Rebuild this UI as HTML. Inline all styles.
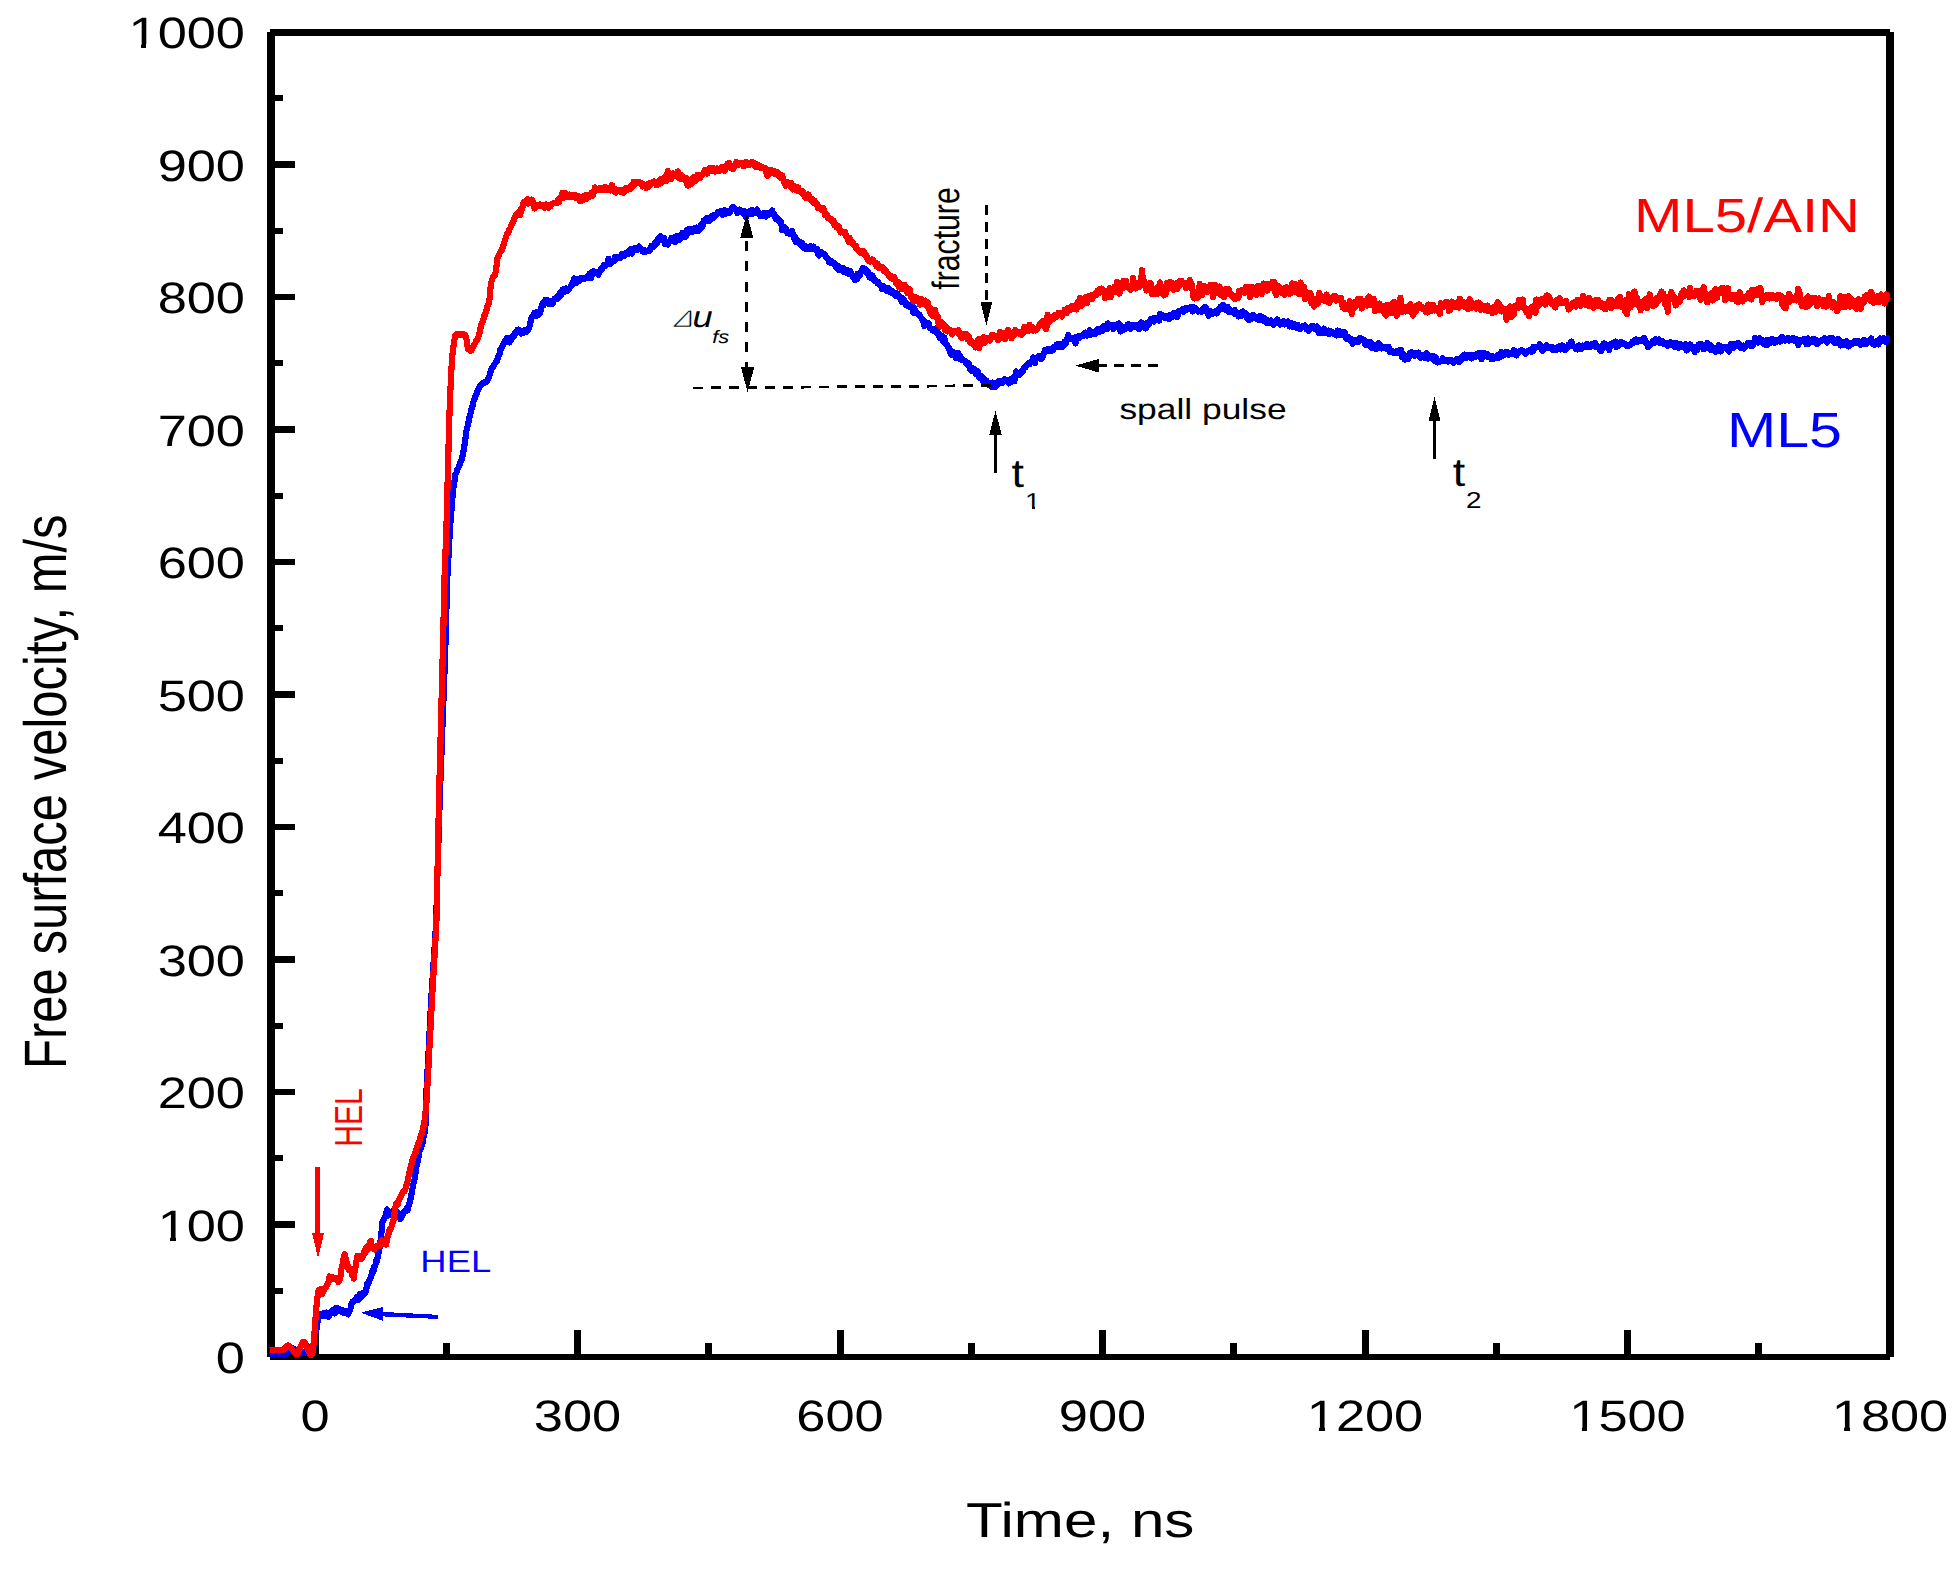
<!DOCTYPE html>
<html lang="en">
<head>
<meta charset="utf-8">
<title>Free surface velocity profiles: ML5 and ML5/AlN</title>
<style>
html,body{margin:0;padding:0;background:#fff;}
body{width:1958px;height:1573px;overflow:hidden;font-family:"Liberation Sans", Arial, Helvetica, sans-serif;}
svg{display:block;}
</style>
</head>
<body>
<svg width="1958" height="1573" viewBox="0 0 1958 1573" font-family='"Liberation Sans", Arial, Helvetica, sans-serif' shape-rendering="crispEdges" text-rendering="geometricPrecision">
<rect x="267.00" y="32.00" width="8.00" height="1324.60" fill="#000"/>
<rect x="1885.80" y="32.00" width="8.20" height="1324.60" fill="#000"/>
<rect x="270.00" y="29.00" width="1620.00" height="6.70" fill="#000"/>
<rect x="270.00" y="1354.20" width="1620.00" height="5.60" fill="#000"/>
<text transform="translate(245.00,1373.00) scale(1.1900,1.0000)" font-size="44" text-anchor="end" fill="#000">0</text>
<rect x="274.00" y="1287.55" width="9.00" height="6.40" fill="#000"/>
<rect x="274.00" y="1221.30" width="21.00" height="6.40" fill="#000"/>
<text transform="translate(245.00,1240.50) scale(1.1900,1.0000)" font-size="44" text-anchor="end" fill="#000">100</text>
<rect x="159.73" y="1236.63" width="10.63" height="4.47" fill="#fff"/>
<rect x="175.59" y="1236.63" width="9.79" height="4.47" fill="#fff"/>
<rect x="274.00" y="1155.05" width="9.00" height="6.40" fill="#000"/>
<rect x="274.00" y="1088.80" width="21.00" height="6.40" fill="#000"/>
<text transform="translate(245.00,1108.00) scale(1.1900,1.0000)" font-size="44" text-anchor="end" fill="#000">200</text>
<rect x="274.00" y="1022.55" width="9.00" height="6.40" fill="#000"/>
<rect x="274.00" y="956.30" width="21.00" height="6.40" fill="#000"/>
<text transform="translate(245.00,975.50) scale(1.1900,1.0000)" font-size="44" text-anchor="end" fill="#000">300</text>
<rect x="274.00" y="890.05" width="9.00" height="6.40" fill="#000"/>
<rect x="274.00" y="823.80" width="21.00" height="6.40" fill="#000"/>
<text transform="translate(245.00,843.00) scale(1.1900,1.0000)" font-size="44" text-anchor="end" fill="#000">400</text>
<rect x="274.00" y="757.55" width="9.00" height="6.40" fill="#000"/>
<rect x="274.00" y="691.30" width="21.00" height="6.40" fill="#000"/>
<text transform="translate(245.00,710.50) scale(1.1900,1.0000)" font-size="44" text-anchor="end" fill="#000">500</text>
<rect x="274.00" y="625.05" width="9.00" height="6.40" fill="#000"/>
<rect x="274.00" y="558.80" width="21.00" height="6.40" fill="#000"/>
<text transform="translate(245.00,578.00) scale(1.1900,1.0000)" font-size="44" text-anchor="end" fill="#000">600</text>
<rect x="274.00" y="492.55" width="9.00" height="6.40" fill="#000"/>
<rect x="274.00" y="426.30" width="21.00" height="6.40" fill="#000"/>
<text transform="translate(245.00,445.50) scale(1.1900,1.0000)" font-size="44" text-anchor="end" fill="#000">700</text>
<rect x="274.00" y="360.05" width="9.00" height="6.40" fill="#000"/>
<rect x="274.00" y="293.80" width="21.00" height="6.40" fill="#000"/>
<text transform="translate(245.00,313.00) scale(1.1900,1.0000)" font-size="44" text-anchor="end" fill="#000">800</text>
<rect x="274.00" y="227.55" width="9.00" height="6.40" fill="#000"/>
<rect x="274.00" y="161.30" width="21.00" height="6.40" fill="#000"/>
<text transform="translate(245.00,180.50) scale(1.1900,1.0000)" font-size="44" text-anchor="end" fill="#000">900</text>
<rect x="274.00" y="95.05" width="9.00" height="6.40" fill="#000"/>
<text transform="translate(245.00,48.00) scale(1.1900,1.0000)" font-size="44" text-anchor="end" fill="#000">1000</text>
<rect x="130.60" y="44.13" width="10.63" height="4.47" fill="#fff"/>
<rect x="146.47" y="44.13" width="9.79" height="4.47" fill="#fff"/>
<rect x="311.50" y="1330.00" width="7.00" height="25.00" fill="#000"/>
<text transform="translate(315.00,1430.90) scale(1.1900,1.0000)" font-size="44" text-anchor="middle" fill="#000">0</text>
<rect x="442.85" y="1343.00" width="6.80" height="12.00" fill="#000"/>
<rect x="574.00" y="1330.00" width="7.00" height="25.00" fill="#000"/>
<text transform="translate(577.50,1430.90) scale(1.1900,1.0000)" font-size="44" text-anchor="middle" fill="#000">300</text>
<rect x="705.35" y="1343.00" width="6.80" height="12.00" fill="#000"/>
<rect x="836.50" y="1330.00" width="7.00" height="25.00" fill="#000"/>
<text transform="translate(840.00,1430.90) scale(1.1900,1.0000)" font-size="44" text-anchor="middle" fill="#000">600</text>
<rect x="967.85" y="1343.00" width="6.80" height="12.00" fill="#000"/>
<rect x="1099.00" y="1330.00" width="7.00" height="25.00" fill="#000"/>
<text transform="translate(1102.50,1430.90) scale(1.1900,1.0000)" font-size="44" text-anchor="middle" fill="#000">900</text>
<rect x="1230.35" y="1343.00" width="6.80" height="12.00" fill="#000"/>
<rect x="1361.50" y="1330.00" width="7.00" height="25.00" fill="#000"/>
<text transform="translate(1365.00,1430.90) scale(1.1900,1.0000)" font-size="44" text-anchor="middle" fill="#000">1200</text>
<rect x="1308.85" y="1427.03" width="10.63" height="4.47" fill="#fff"/>
<rect x="1324.71" y="1427.03" width="9.79" height="4.47" fill="#fff"/>
<rect x="1492.85" y="1343.00" width="6.80" height="12.00" fill="#000"/>
<rect x="1624.00" y="1330.00" width="7.00" height="25.00" fill="#000"/>
<text transform="translate(1627.50,1430.90) scale(1.1900,1.0000)" font-size="44" text-anchor="middle" fill="#000">1500</text>
<rect x="1571.35" y="1427.03" width="10.63" height="4.47" fill="#fff"/>
<rect x="1587.21" y="1427.03" width="9.79" height="4.47" fill="#fff"/>
<rect x="1755.35" y="1343.00" width="6.80" height="12.00" fill="#000"/>
<text transform="translate(1890.00,1430.90) scale(1.1900,1.0000)" font-size="44" text-anchor="middle" fill="#000">1800</text>
<rect x="1833.85" y="1427.03" width="10.63" height="4.47" fill="#fff"/>
<rect x="1849.71" y="1427.03" width="9.79" height="4.47" fill="#fff"/>
<g fill="none" stroke-linejoin="round" stroke-linecap="butt">
<path d="M270.0,1354.6 L270.9,1354.1 L271.8,1354.4 L272.7,1354.0 L273.6,1354.0 L274.5,1354.1 L275.4,1353.9 L276.3,1353.8 L277.2,1353.6 L278.1,1353.6 L279.0,1353.7 L279.9,1353.8 L280.8,1353.9 L281.7,1353.9 L282.6,1353.8 L283.5,1353.8 L284.4,1354.2 L285.3,1354.0 L286.2,1353.9 L287.1,1353.0 L288.0,1351.9 L288.9,1351.3 L289.8,1350.1 L290.7,1349.5 L291.6,1349.0 L292.5,1348.1 L293.4,1348.5 L294.3,1349.7 L295.2,1350.4 L296.1,1351.3 L297.0,1351.9 L297.9,1352.9 L298.8,1353.5 L299.7,1353.6 L300.6,1353.4 L301.5,1353.4 L302.4,1353.3 L303.3,1353.1 L304.2,1353.0 L305.1,1351.7 L306.0,1350.6 L306.9,1349.6 L307.8,1348.1 L308.7,1346.7 L309.6,1348.0 L310.5,1349.9 L311.4,1351.4 L312.3,1353.0 L313.2,1348.4 L314.1,1341.7 L315.0,1335.3 L315.9,1329.4 L316.8,1328.5 L317.7,1320.7 L318.6,1316.6 L319.5,1315.9 L320.4,1314.5 L321.3,1316.1 L322.2,1315.0 L323.1,1315.8 L324.0,1312.9 L324.9,1314.4 L325.8,1315.3 L326.7,1312.6 L327.6,1313.0 L328.5,1316.8 L329.4,1312.9 L330.3,1312.1 L331.2,1312.6 L332.1,1310.7 L333.0,1309.6 L333.9,1310.0 L334.8,1313.4 L335.7,1310.6 L336.6,1307.8 L337.5,1310.4 L338.4,1308.7 L339.3,1311.2 L340.2,1309.5 L341.1,1311.6 L342.0,1311.1 L342.9,1310.4 L343.8,1313.2 L344.7,1311.9 L345.6,1310.9 L346.5,1313.5 L347.4,1313.5 L348.3,1314.3 L349.2,1310.8 L350.1,1310.6 L351.0,1305.9 L351.9,1303.0 L352.8,1301.4 L353.7,1301.2 L354.6,1300.0 L355.5,1300.3 L356.4,1298.9 L357.3,1296.7 L358.2,1299.9 L359.1,1296.6 L360.0,1293.7 L360.9,1297.8 L361.8,1293.4 L362.7,1294.4 L363.6,1294.9 L364.5,1293.6 L365.4,1293.0 L366.3,1289.1 L367.2,1283.7 L368.1,1284.6 L369.0,1281.7 L369.9,1278.8 L370.8,1277.6 L371.7,1274.2 L372.6,1270.3 L373.5,1271.3 L374.4,1266.4 L375.3,1265.8 L376.2,1260.3 L377.1,1260.7 L378.0,1255.1 L378.9,1251.3 L379.8,1246.2 L380.7,1239.1 L381.6,1230.8 L382.5,1222.3 L383.4,1220.3 L384.3,1218.6 L385.2,1216.9 L386.1,1214.3 L387.0,1209.3 L387.9,1214.1 L388.8,1215.3 L389.7,1213.8 L390.6,1212.2 L391.5,1211.6 L392.4,1212.2 L393.3,1216.6 L394.2,1214.4 L395.1,1215.0 L396.0,1211.3 L396.9,1212.4 L397.8,1212.5 L398.7,1214.0 L399.6,1217.6 L400.5,1219.2 L401.4,1216.9 L402.3,1215.7 L403.2,1213.0 L404.1,1212.1 L405.0,1210.7 L405.9,1211.2 L406.8,1208.2 L407.7,1210.2 L408.6,1205.8 L409.5,1203.2 L410.4,1199.7 L411.3,1195.3 L412.2,1190.1 L413.1,1185.9 L414.0,1181.1 L414.9,1178.4 L415.8,1170.9 L416.7,1165.5 L417.6,1161.6 L418.5,1157.2 L419.4,1151.8 L420.3,1149.6 L421.2,1147.3 L422.1,1145.2 L423.0,1140.7 L423.9,1134.8 L424.8,1132.0 L425.7,1122.9 L426.6,1088.0 L427.5,1071.3 L428.4,1055.6 L429.3,1037.3 L430.2,1020.0 L431.1,1001.6 L432.0,986.9 L432.9,973.8 L433.8,959.5 L434.7,946.0 L435.6,931.7 L436.5,908.8 L437.4,877.2 L438.3,846.7 L439.2,815.8 L440.1,789.2 L441.0,766.5 L441.9,740.7 L442.8,717.4 L443.7,692.7 L444.6,668.6 L445.5,642.1 L446.4,610.0 L447.3,578.3 L448.2,562.1 L449.1,545.2 L450.0,528.7 L450.9,517.2 L451.8,505.8 L452.7,494.2 L453.6,486.5 L454.5,480.8 L455.4,474.4 L456.3,473.2 L457.2,469.9 L458.1,468.3 L459.0,466.4 L459.9,463.7 L460.8,461.3 L461.7,459.5 L462.6,455.9 L463.5,450.9 L464.4,445.8 L465.3,439.4 L466.2,431.8 L467.1,428.4 L468.0,424.5 L468.9,420.5 L469.8,415.7 L470.7,412.9 L471.6,408.5 L472.5,406.2 L473.4,401.8 L474.3,399.8 L475.2,396.8 L476.1,395.1 L477.0,392.5 L477.9,390.4 L478.8,388.7 L479.7,386.7 L480.6,385.6 L481.5,384.6 L482.4,383.6 L483.3,382.9 L484.2,382.3 L485.1,382.5 L486.0,381.8 L486.9,381.3 L487.8,379.2 L488.7,377.4 L489.6,375.4 L490.5,371.9 L491.4,368.9 L492.3,367.9 L493.2,366.8 L494.1,364.6 L495.0,363.5 L495.9,361.9 L496.8,361.1 L497.7,358.6 L498.6,355.7 L499.5,354.0 L500.4,349.2 L501.3,348.7 L502.2,347.1 L503.1,344.3 L504.0,343.0 L504.9,340.5 L505.8,342.1 L506.7,338.3 L507.6,339.7 L508.5,338.4 L509.4,342.4 L510.3,340.2 L511.2,340.2 L512.1,336.4 L513.0,337.0 L513.9,336.2 L514.8,332.9 L515.7,333.6 L516.6,331.9 L517.5,329.7 L518.4,329.5 L519.3,330.6 L520.2,330.7 L521.1,333.6 L522.0,333.4 L522.9,333.3 L523.8,330.5 L524.7,329.9 L525.6,329.7 L526.5,331.8 L527.4,329.3 L528.3,330.0 L529.2,327.5 L530.1,324.4 L531.0,319.4 L531.9,316.7 L532.8,316.8 L533.7,316.4 L534.6,312.9 L535.5,315.2 L536.4,315.6 L537.3,311.9 L538.2,315.0 L539.1,312.8 L540.0,313.4 L540.9,308.7 L541.8,305.5 L542.7,303.1 L543.6,305.3 L544.5,301.4 L545.4,299.9 L546.3,302.9 L547.2,300.0 L548.1,300.5 L549.0,303.9 L549.9,302.0 L550.8,301.5 L551.7,302.6 L552.6,303.8 L553.5,301.7 L554.4,298.9 L555.3,299.5 L556.2,297.6 L557.1,299.1 L558.0,295.5 L558.9,297.5 L559.8,292.8 L560.7,295.5 L561.6,293.5 L562.5,289.5 L563.4,291.6 L564.3,289.0 L565.2,291.6 L566.1,288.3 L567.0,291.1 L567.9,289.8 L568.8,289.4 L569.7,287.8 L570.6,286.6 L571.5,286.0 L572.4,282.6 L573.3,282.0 L574.2,278.5 L575.1,281.1 L576.0,283.0 L576.9,280.0 L577.8,281.7 L578.7,278.9 L579.6,280.6 L580.5,278.3 L581.4,279.3 L582.3,279.1 L583.2,278.5 L584.1,278.2 L585.0,278.5 L585.9,278.2 L586.8,276.6 L587.7,276.1 L588.6,277.6 L589.5,274.0 L590.4,274.3 L591.3,277.8 L592.2,271.7 L593.1,273.1 L594.0,271.2 L594.9,272.7 L595.8,272.3 L596.7,272.3 L597.6,271.9 L598.5,274.6 L599.4,271.1 L600.3,270.4 L601.2,269.0 L602.1,268.9 L603.0,267.5 L603.9,264.9 L604.8,266.1 L605.7,265.9 L606.6,264.0 L607.5,262.6 L608.4,258.7 L609.3,264.0 L610.2,264.3 L611.1,261.0 L612.0,262.0 L612.9,261.7 L613.8,261.5 L614.7,257.4 L615.6,258.6 L616.5,259.0 L617.4,257.1 L618.3,258.2 L619.2,258.4 L620.1,257.9 L621.0,256.5 L621.9,254.1 L622.8,255.5 L623.7,255.7 L624.6,255.9 L625.5,254.7 L626.4,252.6 L627.3,253.6 L628.2,252.2 L629.1,253.6 L630.0,250.0 L630.9,248.9 L631.8,253.6 L632.7,249.1 L633.6,248.5 L634.5,249.3 L635.4,248.7 L636.3,247.9 L637.2,250.0 L638.1,247.8 L639.0,246.6 L639.9,248.5 L640.8,248.8 L641.7,249.4 L642.6,251.5 L643.5,251.4 L644.4,250.5 L645.3,251.9 L646.2,251.4 L647.1,251.3 L648.0,250.5 L648.9,251.2 L649.8,250.9 L650.7,248.0 L651.6,245.7 L652.5,245.9 L653.4,247.2 L654.3,243.9 L655.2,242.7 L656.1,241.4 L657.0,243.5 L657.9,238.6 L658.8,240.7 L659.7,239.7 L660.6,236.2 L661.5,238.0 L662.4,238.1 L663.3,240.6 L664.2,238.0 L665.1,244.1 L666.0,244.2 L666.9,243.7 L667.8,244.5 L668.7,242.0 L669.6,241.8 L670.5,240.4 L671.4,237.7 L672.3,240.4 L673.2,237.8 L674.1,241.7 L675.0,236.7 L675.9,241.8 L676.8,239.2 L677.7,235.7 L678.6,239.8 L679.5,240.0 L680.4,237.8 L681.3,236.1 L682.2,232.9 L683.1,234.4 L684.0,235.1 L684.9,236.9 L685.8,236.7 L686.7,229.8 L687.6,229.4 L688.5,231.4 L689.4,232.4 L690.3,229.1 L691.2,231.3 L692.1,230.2 L693.0,231.6 L693.9,228.8 L694.8,228.1 L695.7,229.4 L696.6,227.6 L697.5,231.1 L698.4,230.6 L699.3,228.8 L700.2,228.9 L701.1,224.7 L702.0,227.0 L702.9,225.3 L703.8,220.5 L704.7,221.1 L705.6,220.1 L706.5,218.5 L707.4,221.0 L708.3,218.3 L709.2,221.1 L710.1,219.6 L711.0,219.2 L711.9,215.8 L712.8,217.8 L713.7,217.8 L714.6,214.7 L715.5,215.0 L716.4,214.9 L717.3,214.1 L718.2,211.9 L719.1,212.7 L720.0,212.2 L720.9,210.9 L721.8,212.1 L722.7,214.9 L723.6,212.1 L724.5,210.1 L725.4,210.5 L726.3,213.6 L727.2,211.0 L728.1,212.7 L729.0,213.3 L729.9,211.2 L730.8,211.0 L731.7,209.0 L732.6,206.9 L733.5,207.2 L734.4,209.1 L735.3,209.3 L736.2,209.7 L737.1,212.8 L738.0,212.3 L738.9,211.2 L739.8,209.7 L740.7,211.5 L741.6,211.6 L742.5,211.9 L743.4,211.2 L744.3,214.5 L745.2,211.5 L746.1,217.0 L747.0,214.4 L747.9,213.7 L748.8,212.3 L749.7,211.0 L750.6,213.2 L751.5,213.7 L752.4,210.1 L753.3,213.5 L754.2,212.5 L755.1,212.5 L756.0,212.6 L756.9,209.5 L757.8,212.9 L758.7,214.3 L759.6,213.4 L760.5,216.2 L761.4,215.8 L762.3,215.7 L763.2,215.4 L764.1,213.1 L765.0,213.7 L765.9,216.5 L766.8,215.1 L767.7,213.0 L768.6,214.7 L769.5,214.6 L770.4,212.4 L771.3,213.4 L772.2,210.4 L773.1,213.1 L774.0,214.1 L774.9,216.0 L775.8,219.2 L776.7,217.7 L777.6,219.5 L778.5,218.9 L779.4,221.5 L780.3,220.7 L781.2,222.4 L782.1,229.7 L783.0,226.5 L783.9,226.9 L784.8,230.0 L785.7,228.7 L786.6,230.7 L787.5,233.2 L788.4,233.1 L789.3,234.0 L790.2,232.0 L791.1,232.3 L792.0,231.1 L792.9,233.6 L793.8,237.7 L794.7,236.4 L795.6,241.9 L796.5,240.3 L797.4,240.1 L798.3,242.6 L799.2,241.4 L800.1,244.2 L801.0,245.6 L801.9,243.0 L802.8,244.4 L803.7,247.8 L804.6,245.5 L805.5,246.7 L806.4,249.1 L807.3,247.2 L808.2,248.8 L809.1,247.4 L810.0,249.2 L810.9,246.3 L811.8,249.3 L812.7,248.4 L813.6,246.7 L814.5,248.4 L815.4,249.9 L816.3,250.4 L817.2,248.9 L818.1,254.3 L819.0,255.5 L819.9,253.9 L820.8,253.0 L821.7,252.2 L822.6,253.0 L823.5,253.6 L824.4,254.0 L825.3,255.2 L826.2,257.4 L827.1,258.4 L828.0,258.8 L828.9,262.0 L829.8,262.4 L830.7,263.0 L831.6,261.2 L832.5,262.3 L833.4,263.8 L834.3,263.1 L835.2,264.7 L836.1,267.0 L837.0,267.9 L837.9,265.8 L838.8,270.1 L839.7,267.4 L840.6,268.2 L841.5,268.7 L842.4,269.0 L843.3,268.4 L844.2,272.2 L845.1,271.1 L846.0,271.4 L846.9,270.1 L847.8,273.5 L848.7,272.7 L849.6,274.2 L850.5,271.4 L851.4,273.9 L852.3,276.0 L853.2,275.9 L854.1,278.1 L855.0,280.2 L855.9,279.0 L856.8,279.3 L857.7,273.7 L858.6,276.4 L859.5,276.0 L860.4,272.7 L861.3,271.5 L862.2,269.2 L863.1,268.1 L864.0,268.5 L864.9,268.7 L865.8,270.6 L866.7,272.6 L867.6,271.2 L868.5,272.7 L869.4,277.2 L870.3,277.7 L871.2,276.6 L872.1,275.4 L873.0,277.4 L873.9,280.5 L874.8,280.0 L875.7,280.4 L876.6,281.0 L877.5,283.2 L878.4,282.2 L879.3,284.7 L880.2,285.0 L881.1,286.4 L882.0,288.8 L882.9,285.8 L883.8,287.7 L884.7,287.7 L885.6,288.7 L886.5,290.6 L887.4,289.5 L888.3,287.8 L889.2,289.8 L890.1,291.9 L891.0,292.7 L891.9,290.7 L892.8,291.5 L893.7,292.4 L894.6,293.5 L895.5,295.7 L896.4,293.2 L897.3,293.3 L898.2,296.2 L899.1,296.9 L900.0,296.5 L900.9,299.5 L901.8,301.8 L902.7,298.5 L903.6,299.0 L904.5,300.3 L905.4,304.2 L906.3,305.2 L907.2,304.0 L908.1,306.1 L909.0,304.9 L909.9,306.9 L910.8,306.4 L911.7,303.8 L912.6,308.5 L913.5,312.8 L914.4,308.1 L915.3,311.5 L916.2,312.5 L917.1,313.4 L918.0,314.1 L918.9,314.2 L919.8,315.1 L920.7,317.2 L921.6,318.5 L922.5,319.1 L923.4,321.5 L924.3,326.3 L925.2,324.8 L926.1,322.6 L927.0,322.9 L927.9,324.8 L928.8,323.3 L929.7,327.7 L930.6,328.6 L931.5,328.7 L932.4,330.2 L933.3,329.0 L934.2,330.7 L935.1,331.8 L936.0,330.4 L936.9,328.3 L937.8,333.3 L938.7,335.2 L939.6,337.7 L940.5,337.5 L941.4,335.6 L942.3,338.7 L943.2,341.7 L944.1,337.2 L945.0,340.8 L945.9,343.8 L946.8,344.3 L947.7,347.3 L948.6,347.2 L949.5,349.7 L950.4,353.0 L951.3,354.8 L952.2,351.4 L953.1,352.4 L954.0,353.4 L954.9,354.3 L955.8,358.1 L956.7,353.0 L957.6,356.0 L958.5,353.4 L959.4,358.6 L960.3,356.6 L961.2,359.6 L962.1,359.4 L963.0,360.0 L963.9,360.2 L964.8,360.8 L965.7,362.9 L966.6,363.7 L967.5,364.7 L968.4,363.2 L969.3,364.7 L970.2,369.4 L971.1,370.7 L972.0,368.5 L972.9,368.4 L973.8,369.1 L974.7,369.8 L975.6,373.7 L976.5,374.3 L977.4,371.0 L978.3,373.5 L979.2,377.5 L980.1,375.7 L981.0,377.4 L981.9,376.3 L982.8,381.3 L983.7,378.6 L984.6,380.1 L985.5,382.1 L986.4,380.7 L987.3,383.4 L988.2,384.8 L989.1,384.4 L990.0,383.9 L990.9,384.5 L991.8,387.1 L992.7,382.6 L993.6,385.1 L994.5,384.7 L995.4,387.0 L996.3,384.7 L997.2,384.9 L998.1,381.7 L999.0,381.0 L999.9,382.5 L1000.8,383.3 L1001.7,383.1 L1002.6,382.6 L1003.5,381.4 L1004.4,379.3 L1005.3,380.4 L1006.2,380.5 L1007.1,381.1 L1008.0,382.1 L1008.9,383.4 L1009.8,379.6 L1010.7,380.4 L1011.6,381.7 L1012.5,378.8 L1013.4,377.5 L1014.3,381.3 L1015.2,377.1 L1016.1,371.4 L1017.0,372.9 L1017.9,374.8 L1018.8,373.8 L1019.7,374.7 L1020.6,372.0 L1021.5,372.3 L1022.4,372.3 L1023.3,369.5 L1024.2,368.0 L1025.1,367.8 L1026.0,365.8 L1026.9,365.6 L1027.8,364.1 L1028.7,362.8 L1029.6,364.1 L1030.5,362.8 L1031.4,361.4 L1032.3,360.9 L1033.2,357.4 L1034.1,360.4 L1035.0,363.0 L1035.9,358.5 L1036.8,358.6 L1037.7,357.8 L1038.6,356.4 L1039.5,358.2 L1040.4,358.4 L1041.3,359.1 L1042.2,358.5 L1043.1,354.5 L1044.0,353.6 L1044.9,349.7 L1045.8,349.8 L1046.7,350.6 L1047.6,351.0 L1048.5,348.8 L1049.4,349.3 L1050.3,351.0 L1051.2,351.1 L1052.1,350.3 L1053.0,350.0 L1053.9,347.1 L1054.8,346.8 L1055.7,346.3 L1056.6,344.7 L1057.5,347.3 L1058.4,344.4 L1059.3,343.8 L1060.2,345.4 L1061.1,343.8 L1062.0,347.3 L1062.9,346.7 L1063.8,345.3 L1064.7,341.6 L1065.6,343.9 L1066.5,340.2 L1067.4,338.7 L1068.3,335.1 L1069.2,337.4 L1070.1,338.4 L1071.0,338.9 L1071.9,338.2 L1072.8,339.0 L1073.7,339.9 L1074.6,337.8 L1075.5,343.4 L1076.4,336.9 L1077.3,338.6 L1078.2,338.0 L1079.1,336.1 L1080.0,337.4 L1080.9,335.9 L1081.8,335.7 L1082.7,335.0 L1083.6,335.8 L1084.5,334.4 L1085.4,332.6 L1086.3,335.6 L1087.2,335.6 L1088.1,333.6 L1089.0,332.3 L1089.9,330.3 L1090.8,335.0 L1091.7,331.6 L1092.6,334.1 L1093.5,332.4 L1094.4,332.6 L1095.3,333.9 L1096.2,330.5 L1097.1,330.8 L1098.0,328.9 L1098.9,329.5 L1099.8,331.9 L1100.7,330.1 L1101.6,329.7 L1102.5,330.7 L1103.4,326.4 L1104.3,329.6 L1105.2,326.4 L1106.1,327.2 L1107.0,328.9 L1107.9,323.3 L1108.8,327.1 L1109.7,324.6 L1110.6,326.6 L1111.5,324.7 L1112.4,327.3 L1113.3,328.9 L1114.2,326.7 L1115.1,325.5 L1116.0,326.4 L1116.9,325.6 L1117.8,327.4 L1118.7,323.4 L1119.6,326.8 L1120.5,331.4 L1121.4,325.9 L1122.3,329.7 L1123.2,329.8 L1124.1,329.7 L1125.0,329.1 L1125.9,327.8 L1126.8,326.5 L1127.7,324.5 L1128.6,324.2 L1129.5,327.4 L1130.4,328.7 L1131.3,325.2 L1132.2,325.4 L1133.1,326.3 L1134.0,327.0 L1134.9,324.9 L1135.8,325.0 L1136.7,324.7 L1137.6,328.1 L1138.5,328.7 L1139.4,329.1 L1140.3,327.1 L1141.2,322.4 L1142.1,326.9 L1143.0,325.7 L1143.9,324.1 L1144.8,323.8 L1145.7,328.4 L1146.6,326.1 L1147.5,322.5 L1148.4,325.2 L1149.3,322.5 L1150.2,320.9 L1151.1,319.0 L1152.0,318.9 L1152.9,318.3 L1153.8,321.6 L1154.7,319.7 L1155.6,317.8 L1156.5,318.6 L1157.4,317.8 L1158.3,319.4 L1159.2,320.6 L1160.1,313.7 L1161.0,317.7 L1161.9,317.3 L1162.8,315.5 L1163.7,317.7 L1164.6,317.6 L1165.5,317.8 L1166.4,316.4 L1167.3,317.1 L1168.2,318.4 L1169.1,319.3 L1170.0,314.8 L1170.9,317.1 L1171.8,317.4 L1172.7,313.9 L1173.6,312.8 L1174.5,315.2 L1175.4,312.7 L1176.3,315.0 L1177.2,317.2 L1178.1,313.5 L1179.0,310.7 L1179.9,311.1 L1180.8,310.6 L1181.7,310.3 L1182.6,309.4 L1183.5,311.8 L1184.4,308.6 L1185.3,308.4 L1186.2,309.9 L1187.1,307.7 L1188.0,308.4 L1188.9,308.6 L1189.8,308.2 L1190.7,306.8 L1191.6,309.1 L1192.5,311.5 L1193.4,307.3 L1194.3,309.5 L1195.2,308.3 L1196.1,309.8 L1197.0,310.0 L1197.9,311.6 L1198.8,311.0 L1199.7,310.8 L1200.6,311.1 L1201.5,311.9 L1202.4,310.0 L1203.3,308.4 L1204.2,309.9 L1205.1,307.1 L1206.0,308.1 L1206.9,310.2 L1207.8,314.4 L1208.7,315.6 L1209.6,312.3 L1210.5,311.1 L1211.4,313.3 L1212.3,314.2 L1213.2,312.9 L1214.1,312.7 L1215.0,311.4 L1215.9,311.3 L1216.8,313.3 L1217.7,311.3 L1218.6,309.2 L1219.5,309.3 L1220.4,306.9 L1221.3,307.4 L1222.2,305.4 L1223.1,304.8 L1224.0,308.8 L1224.9,308.1 L1225.8,309.6 L1226.7,308.0 L1227.6,306.9 L1228.5,311.9 L1229.4,310.3 L1230.3,311.9 L1231.2,310.4 L1232.1,311.5 L1233.0,311.6 L1233.9,313.6 L1234.8,309.9 L1235.7,312.3 L1236.6,314.0 L1237.5,312.5 L1238.4,316.5 L1239.3,314.7 L1240.2,314.8 L1241.1,316.1 L1242.0,312.2 L1242.9,311.6 L1243.8,313.2 L1244.7,314.3 L1245.6,313.3 L1246.5,317.3 L1247.4,316.2 L1248.3,319.8 L1249.2,315.9 L1250.1,317.5 L1251.0,319.4 L1251.9,318.3 L1252.8,314.9 L1253.7,315.3 L1254.6,318.2 L1255.5,316.5 L1256.4,318.6 L1257.3,319.5 L1258.2,319.1 L1259.1,319.8 L1260.0,315.6 L1260.9,319.7 L1261.8,319.8 L1262.7,320.6 L1263.6,317.5 L1264.5,318.6 L1265.4,320.0 L1266.3,320.3 L1267.2,323.3 L1268.1,320.4 L1269.0,320.7 L1269.9,320.9 L1270.8,320.5 L1271.7,323.7 L1272.6,323.7 L1273.5,324.8 L1274.4,323.3 L1275.3,323.6 L1276.2,323.0 L1277.1,319.3 L1278.0,323.1 L1278.9,321.1 L1279.8,324.5 L1280.7,324.5 L1281.6,323.0 L1282.5,321.8 L1283.4,321.3 L1284.3,324.4 L1285.2,321.7 L1286.1,323.3 L1287.0,323.3 L1287.9,321.4 L1288.8,323.3 L1289.7,326.4 L1290.6,324.9 L1291.5,323.4 L1292.4,325.3 L1293.3,327.0 L1294.2,324.2 L1295.1,324.8 L1296.0,325.3 L1296.9,328.0 L1297.8,325.0 L1298.7,327.3 L1299.6,329.2 L1300.5,326.9 L1301.4,327.6 L1302.3,326.1 L1303.2,326.3 L1304.1,326.1 L1305.0,325.4 L1305.9,327.5 L1306.8,329.5 L1307.7,328.5 L1308.6,331.1 L1309.5,328.1 L1310.4,328.8 L1311.3,328.7 L1312.2,325.7 L1313.1,326.0 L1314.0,327.8 L1314.9,328.9 L1315.8,327.1 L1316.7,326.4 L1317.6,329.7 L1318.5,332.6 L1319.4,328.9 L1320.3,333.0 L1321.2,331.1 L1322.1,331.8 L1323.0,332.6 L1323.9,328.6 L1324.8,333.3 L1325.7,331.1 L1326.6,332.8 L1327.5,331.7 L1328.4,330.7 L1329.3,334.1 L1330.2,330.7 L1331.1,333.3 L1332.0,331.9 L1332.9,332.3 L1333.8,334.2 L1334.7,334.1 L1335.6,333.8 L1336.5,335.3 L1337.4,330.5 L1338.3,332.3 L1339.2,332.4 L1340.1,331.4 L1341.0,335.0 L1341.9,335.0 L1342.8,334.3 L1343.7,334.0 L1344.6,332.2 L1345.5,337.8 L1346.4,338.6 L1347.3,338.9 L1348.2,337.3 L1349.1,337.3 L1350.0,339.9 L1350.9,339.3 L1351.8,339.3 L1352.7,343.8 L1353.6,339.7 L1354.5,339.8 L1355.4,340.8 L1356.3,340.6 L1357.2,341.8 L1358.1,342.0 L1359.0,339.4 L1359.9,337.9 L1360.8,338.3 L1361.7,338.7 L1362.6,339.8 L1363.5,339.5 L1364.4,340.6 L1365.3,344.8 L1366.2,344.0 L1367.1,342.4 L1368.0,343.5 L1368.9,345.3 L1369.8,342.0 L1370.7,342.3 L1371.6,347.8 L1372.5,346.6 L1373.4,345.1 L1374.3,344.8 L1375.2,346.3 L1376.1,349.3 L1377.0,347.9 L1377.9,345.3 L1378.8,343.2 L1379.7,345.8 L1380.6,345.1 L1381.5,348.5 L1382.4,348.0 L1383.3,346.8 L1384.2,347.3 L1385.1,347.4 L1386.0,346.8 L1386.9,348.9 L1387.8,348.5 L1388.7,346.8 L1389.6,352.0 L1390.5,350.4 L1391.4,352.0 L1392.3,351.0 L1393.2,352.4 L1394.1,351.8 L1395.0,352.7 L1395.9,353.1 L1396.8,350.8 L1397.7,351.4 L1398.6,350.7 L1399.5,352.8 L1400.4,352.8 L1401.3,350.2 L1402.2,357.0 L1403.1,354.1 L1404.0,355.2 L1404.9,359.6 L1405.8,356.8 L1406.7,358.4 L1407.6,357.2 L1408.5,358.8 L1409.4,353.9 L1410.3,353.0 L1411.2,352.3 L1412.1,354.0 L1413.0,355.2 L1413.9,353.8 L1414.8,355.8 L1415.7,353.0 L1416.6,354.8 L1417.5,353.6 L1418.4,352.7 L1419.3,356.7 L1420.2,357.8 L1421.1,354.7 L1422.0,355.9 L1422.9,356.5 L1423.8,356.2 L1424.7,357.9 L1425.6,357.6 L1426.5,353.1 L1427.4,356.9 L1428.3,358.6 L1429.2,357.1 L1430.1,356.4 L1431.0,356.6 L1431.9,356.0 L1432.8,355.9 L1433.7,359.4 L1434.6,360.9 L1435.5,357.2 L1436.4,360.9 L1437.3,362.4 L1438.2,360.8 L1439.1,362.0 L1440.0,361.3 L1440.9,360.5 L1441.8,361.1 L1442.7,358.3 L1443.6,360.4 L1444.5,359.9 L1445.4,361.2 L1446.3,361.0 L1447.2,360.5 L1448.1,361.4 L1449.0,359.8 L1449.9,361.0 L1450.8,361.1 L1451.7,360.3 L1452.6,361.4 L1453.5,362.9 L1454.4,361.4 L1455.3,361.3 L1456.2,360.5 L1457.1,358.9 L1458.0,358.8 L1458.9,362.1 L1459.8,358.5 L1460.7,359.4 L1461.6,359.6 L1462.5,356.5 L1463.4,356.0 L1464.3,354.6 L1465.2,355.6 L1466.1,358.0 L1467.0,355.1 L1467.9,356.0 L1468.8,355.9 L1469.7,355.1 L1470.6,355.7 L1471.5,358.4 L1472.4,355.0 L1473.3,357.5 L1474.2,355.6 L1475.1,356.9 L1476.0,355.7 L1476.9,353.9 L1477.8,356.0 L1478.7,356.4 L1479.6,352.8 L1480.5,356.5 L1481.4,359.3 L1482.3,356.1 L1483.2,355.8 L1484.1,353.2 L1485.0,354.9 L1485.9,354.8 L1486.8,356.5 L1487.7,354.4 L1488.6,356.6 L1489.5,356.9 L1490.4,356.7 L1491.3,358.8 L1492.2,356.1 L1493.1,358.8 L1494.0,357.5 L1494.9,357.4 L1495.8,357.9 L1496.7,357.6 L1497.6,355.5 L1498.5,354.6 L1499.4,357.6 L1500.3,356.4 L1501.2,352.0 L1502.1,352.6 L1503.0,355.7 L1503.9,355.4 L1504.8,354.6 L1505.7,354.0 L1506.6,351.7 L1507.5,353.8 L1508.4,354.9 L1509.3,354.1 L1510.2,352.8 L1511.1,353.8 L1512.0,353.1 L1512.9,352.2 L1513.8,350.3 L1514.7,350.5 L1515.6,354.5 L1516.5,355.3 L1517.4,352.2 L1518.3,352.7 L1519.2,351.3 L1520.1,351.2 L1521.0,351.4 L1521.9,350.2 L1522.8,350.6 L1523.7,351.0 L1524.6,352.8 L1525.5,354.1 L1526.4,352.5 L1527.3,352.1 L1528.2,351.0 L1529.1,350.8 L1530.0,349.8 L1530.9,351.5 L1531.8,349.7 L1532.7,351.5 L1533.6,346.8 L1534.5,348.3 L1535.4,348.1 L1536.3,347.1 L1537.2,347.0 L1538.1,347.1 L1539.0,346.8 L1539.9,344.3 L1540.8,346.4 L1541.7,349.5 L1542.6,350.9 L1543.5,348.1 L1544.4,347.2 L1545.3,346.6 L1546.2,345.2 L1547.1,347.5 L1548.0,347.2 L1548.9,348.0 L1549.8,346.8 L1550.7,348.3 L1551.6,347.5 L1552.5,349.6 L1553.4,347.5 L1554.3,347.8 L1555.2,347.9 L1556.1,350.3 L1557.0,348.4 L1557.9,348.2 L1558.8,346.5 L1559.7,347.2 L1560.6,349.4 L1561.5,345.6 L1562.4,345.4 L1563.3,348.2 L1564.2,348.9 L1565.1,350.1 L1566.0,348.2 L1566.9,346.8 L1567.8,347.4 L1568.7,344.5 L1569.6,344.0 L1570.5,343.4 L1571.4,341.6 L1572.3,343.8 L1573.2,346.4 L1574.1,346.8 L1575.0,347.1 L1575.9,349.0 L1576.8,349.2 L1577.7,349.4 L1578.6,345.4 L1579.5,348.8 L1580.4,347.7 L1581.3,348.9 L1582.2,345.6 L1583.1,346.3 L1584.0,346.0 L1584.9,347.0 L1585.8,345.1 L1586.7,344.0 L1587.6,345.7 L1588.5,346.8 L1589.4,344.9 L1590.3,346.2 L1591.2,346.6 L1592.1,343.9 L1593.0,345.4 L1593.9,345.2 L1594.8,342.9 L1595.7,343.9 L1596.6,347.2 L1597.5,346.0 L1598.4,346.6 L1599.3,348.7 L1600.2,350.4 L1601.1,351.1 L1602.0,349.1 L1602.9,345.7 L1603.8,343.5 L1604.7,346.3 L1605.6,346.5 L1606.5,344.6 L1607.4,346.2 L1608.3,346.1 L1609.2,349.9 L1610.1,344.2 L1611.0,344.6 L1611.9,345.1 L1612.8,342.9 L1613.7,344.2 L1614.6,345.4 L1615.5,341.6 L1616.4,347.1 L1617.3,344.4 L1618.2,346.1 L1619.1,345.1 L1620.0,343.6 L1620.9,341.9 L1621.8,343.5 L1622.7,342.8 L1623.6,344.3 L1624.5,344.4 L1625.4,344.5 L1626.3,344.5 L1627.2,346.0 L1628.1,345.1 L1629.0,345.7 L1629.9,344.6 L1630.8,344.5 L1631.7,343.4 L1632.6,341.6 L1633.5,343.0 L1634.4,342.5 L1635.3,339.6 L1636.2,342.2 L1637.1,339.6 L1638.0,341.5 L1638.9,339.8 L1639.8,341.0 L1640.7,339.7 L1641.6,339.7 L1642.5,339.4 L1643.4,339.8 L1644.3,337.7 L1645.2,342.6 L1646.1,342.1 L1647.0,343.1 L1647.9,347.3 L1648.8,346.3 L1649.7,343.7 L1650.6,345.0 L1651.5,343.8 L1652.4,342.5 L1653.3,340.6 L1654.2,342.8 L1655.1,341.7 L1656.0,339.2 L1656.9,341.0 L1657.8,340.8 L1658.7,339.5 L1659.6,342.8 L1660.5,342.2 L1661.4,343.0 L1662.3,340.7 L1663.2,342.2 L1664.1,344.1 L1665.0,342.9 L1665.9,344.0 L1666.8,342.8 L1667.7,345.7 L1668.6,343.8 L1669.5,344.5 L1670.4,342.3 L1671.3,342.8 L1672.2,344.2 L1673.1,345.7 L1674.0,343.0 L1674.9,347.0 L1675.8,342.8 L1676.7,346.5 L1677.6,345.2 L1678.5,347.8 L1679.4,344.7 L1680.3,344.0 L1681.2,347.1 L1682.1,346.0 L1683.0,347.2 L1683.9,347.6 L1684.8,348.2 L1685.7,344.3 L1686.6,350.5 L1687.5,349.3 L1688.4,344.7 L1689.3,348.5 L1690.2,344.4 L1691.1,347.4 L1692.0,346.3 L1692.9,349.6 L1693.8,349.2 L1694.7,352.1 L1695.6,349.7 L1696.5,347.1 L1697.4,349.9 L1698.3,345.1 L1699.2,347.2 L1700.1,343.6 L1701.0,345.0 L1701.9,346.9 L1702.8,344.6 L1703.7,349.3 L1704.6,346.6 L1705.5,345.8 L1706.4,345.0 L1707.3,342.8 L1708.2,347.9 L1709.1,345.5 L1710.0,344.8 L1710.9,350.0 L1711.8,349.0 L1712.7,347.2 L1713.6,347.6 L1714.5,350.9 L1715.4,351.7 L1716.3,349.6 L1717.2,347.7 L1718.1,349.2 L1719.0,345.2 L1719.9,347.1 L1720.8,351.5 L1721.7,350.2 L1722.6,347.1 L1723.5,347.6 L1724.4,347.3 L1725.3,348.3 L1726.2,346.9 L1727.1,347.2 L1728.0,347.6 L1728.9,351.5 L1729.8,347.4 L1730.7,344.0 L1731.6,346.6 L1732.5,344.4 L1733.4,348.0 L1734.3,344.5 L1735.2,344.1 L1736.1,346.0 L1737.0,345.4 L1737.9,342.8 L1738.8,346.5 L1739.7,345.8 L1740.6,348.0 L1741.5,345.6 L1742.4,346.1 L1743.3,345.7 L1744.2,348.5 L1745.1,346.6 L1746.0,346.2 L1746.9,344.9 L1747.8,343.1 L1748.7,343.2 L1749.6,345.4 L1750.5,342.7 L1751.4,343.9 L1752.3,346.2 L1753.2,344.3 L1754.1,342.8 L1755.0,338.1 L1755.9,340.7 L1756.8,342.2 L1757.7,342.6 L1758.6,342.3 L1759.5,338.1 L1760.4,338.9 L1761.3,339.4 L1762.2,340.0 L1763.1,343.7 L1764.0,342.9 L1764.9,344.5 L1765.8,343.3 L1766.7,345.3 L1767.6,340.0 L1768.5,344.1 L1769.4,342.8 L1770.3,342.1 L1771.2,342.5 L1772.1,338.6 L1773.0,341.2 L1773.9,340.6 L1774.8,342.8 L1775.7,341.2 L1776.6,342.0 L1777.5,339.7 L1778.4,340.8 L1779.3,339.5 L1780.2,341.6 L1781.1,341.0 L1782.0,336.6 L1782.9,339.2 L1783.8,339.1 L1784.7,340.5 L1785.6,339.6 L1786.5,338.7 L1787.4,339.5 L1788.3,337.8 L1789.2,340.6 L1790.1,339.4 L1791.0,339.9 L1791.9,339.3 L1792.8,338.0 L1793.7,339.7 L1794.6,341.1 L1795.5,340.4 L1796.4,339.4 L1797.3,339.3 L1798.2,345.0 L1799.1,343.0 L1800.0,340.0 L1800.9,339.7 L1801.8,340.9 L1802.7,341.1 L1803.6,341.1 L1804.5,338.8 L1805.4,340.5 L1806.3,344.1 L1807.2,339.8 L1808.1,338.5 L1809.0,343.5 L1809.9,340.0 L1810.8,339.8 L1811.7,341.6 L1812.6,339.4 L1813.5,341.4 L1814.4,338.9 L1815.3,342.0 L1816.2,339.9 L1817.1,344.3 L1818.0,340.7 L1818.9,342.3 L1819.8,341.1 L1820.7,341.4 L1821.6,340.8 L1822.5,339.5 L1823.4,339.9 L1824.3,338.3 L1825.2,339.8 L1826.1,340.7 L1827.0,342.6 L1827.9,340.2 L1828.8,340.4 L1829.7,337.9 L1830.6,338.7 L1831.5,340.3 L1832.4,337.8 L1833.3,341.3 L1834.2,342.6 L1835.1,341.7 L1836.0,341.1 L1836.9,342.9 L1837.8,338.8 L1838.7,340.7 L1839.6,340.4 L1840.5,345.5 L1841.4,341.5 L1842.3,341.8 L1843.2,345.4 L1844.1,344.8 L1845.0,344.9 L1845.9,343.0 L1846.8,341.2 L1847.7,345.0 L1848.6,346.5 L1849.5,343.9 L1850.4,343.7 L1851.3,343.9 L1852.2,342.8 L1853.1,343.5 L1854.0,341.6 L1854.9,343.0 L1855.8,341.0 L1856.7,342.3 L1857.6,340.8 L1858.5,341.5 L1859.4,343.4 L1860.3,344.7 L1861.2,341.7 L1862.1,342.0 L1863.0,344.0 L1863.9,339.8 L1864.8,343.3 L1865.7,341.4 L1866.6,344.1 L1867.5,341.3 L1868.4,341.6 L1869.3,341.2 L1870.2,340.7 L1871.1,338.4 L1872.0,343.7 L1872.9,343.8 L1873.8,342.6 L1874.7,344.9 L1875.6,342.7 L1876.5,341.0 L1877.4,340.5 L1878.3,344.5 L1879.2,341.5 L1880.1,338.6 L1881.0,339.2 L1881.9,340.1 L1882.8,338.9 L1883.7,338.2 L1884.6,341.4 L1885.5,341.7 L1886.4,341.1 L1887.3,338.3 L1888.2,339.8" stroke="#0000ff" stroke-width="6.2"/>
<path d="M270.0,1350.4 L270.9,1350.2 L271.8,1350.3 L272.7,1350.4 L273.6,1350.4 L274.5,1350.4 L275.4,1349.8 L276.3,1350.3 L277.2,1349.8 L278.1,1350.2 L279.0,1350.1 L279.9,1350.2 L280.8,1350.2 L281.7,1350.3 L282.6,1350.4 L283.5,1349.3 L284.4,1348.6 L285.3,1347.7 L286.2,1346.8 L287.1,1346.0 L288.0,1345.4 L288.9,1345.8 L289.8,1346.8 L290.7,1347.6 L291.6,1349.2 L292.5,1350.1 L293.4,1351.0 L294.3,1352.1 L295.2,1353.1 L296.1,1354.2 L297.0,1354.4 L297.9,1353.0 L298.8,1350.5 L299.7,1348.6 L300.6,1346.9 L301.5,1345.3 L302.4,1343.6 L303.3,1341.7 L304.2,1341.7 L305.1,1343.5 L306.0,1345.5 L306.9,1347.3 L307.8,1348.7 L308.7,1351.4 L309.6,1353.5 L310.5,1354.9 L311.4,1354.8 L312.3,1353.9 L313.2,1347.6 L314.1,1337.6 L315.0,1327.1 L315.9,1312.5 L316.8,1303.1 L317.7,1294.9 L318.6,1290.1 L319.5,1290.4 L320.4,1289.2 L321.3,1291.7 L322.2,1293.8 L323.1,1291.8 L324.0,1290.5 L324.9,1287.5 L325.8,1287.4 L326.7,1285.5 L327.6,1283.7 L328.5,1282.7 L329.4,1276.4 L330.3,1279.9 L331.2,1279.0 L332.1,1277.6 L333.0,1277.3 L333.9,1278.6 L334.8,1278.2 L335.7,1277.8 L336.6,1279.1 L337.5,1280.4 L338.4,1282.1 L339.3,1280.5 L340.2,1279.0 L341.1,1270.2 L342.0,1266.9 L342.9,1264.0 L343.8,1256.1 L344.7,1254.4 L345.6,1258.4 L346.5,1262.3 L347.4,1264.2 L348.3,1268.2 L349.2,1270.1 L350.1,1268.3 L351.0,1269.8 L351.9,1274.6 L352.8,1273.1 L353.7,1278.6 L354.6,1271.6 L355.5,1267.0 L356.4,1261.6 L357.3,1256.0 L358.2,1256.1 L359.1,1256.0 L360.0,1257.4 L360.9,1255.8 L361.8,1258.8 L362.7,1256.3 L363.6,1255.2 L364.5,1251.0 L365.4,1253.0 L366.3,1247.2 L367.2,1250.5 L368.1,1247.3 L369.0,1248.0 L369.9,1241.7 L370.8,1240.8 L371.7,1246.0 L372.6,1247.2 L373.5,1247.6 L374.4,1249.4 L375.3,1247.3 L376.2,1246.9 L377.1,1245.9 L378.0,1245.2 L378.9,1245.9 L379.8,1244.6 L380.7,1243.0 L381.6,1240.2 L382.5,1243.6 L383.4,1243.9 L384.3,1243.3 L385.2,1240.7 L386.1,1244.8 L387.0,1239.9 L387.9,1235.2 L388.8,1233.2 L389.7,1229.0 L390.6,1229.4 L391.5,1226.7 L392.4,1223.4 L393.3,1221.7 L394.2,1214.4 L395.1,1210.3 L396.0,1203.7 L396.9,1202.9 L397.8,1204.6 L398.7,1200.7 L399.6,1198.4 L400.5,1196.8 L401.4,1196.0 L402.3,1193.2 L403.2,1191.7 L404.1,1191.7 L405.0,1190.4 L405.9,1187.3 L406.8,1183.7 L407.7,1180.8 L408.6,1176.2 L409.5,1172.3 L410.4,1168.1 L411.3,1164.5 L412.2,1161.4 L413.1,1157.8 L414.0,1156.7 L414.9,1153.1 L415.8,1152.1 L416.7,1147.6 L417.6,1146.0 L418.5,1142.9 L419.4,1141.6 L420.3,1137.3 L421.2,1134.5 L422.1,1132.6 L423.0,1128.4 L423.9,1124.2 L424.8,1119.4 L425.7,1110.5 L426.6,1100.4 L427.5,1083.8 L428.4,1068.0 L429.3,1050.2 L430.2,1033.9 L431.1,1016.9 L432.0,999.4 L432.9,983.8 L433.8,968.4 L434.7,952.9 L435.6,938.2 L436.5,919.5 L437.4,876.3 L438.3,832.5 L439.2,791.5 L440.1,755.7 L441.0,722.1 L441.9,687.2 L442.8,651.9 L443.7,612.9 L444.6,575.9 L445.5,552.8 L446.4,528.8 L447.3,494.2 L448.2,459.5 L449.1,426.9 L450.0,397.2 L450.9,381.0 L451.8,361.9 L452.7,352.2 L453.6,345.2 L454.5,339.7 L455.4,335.6 L456.3,334.2 L457.2,334.0 L458.1,334.1 L459.0,334.3 L459.9,334.9 L460.8,333.8 L461.7,334.6 L462.6,334.2 L463.5,334.0 L464.4,335.3 L465.3,334.8 L466.2,337.4 L467.1,343.7 L468.0,349.0 L468.9,349.5 L469.8,349.4 L470.7,350.8 L471.6,350.4 L472.5,348.5 L473.4,346.1 L474.3,344.4 L475.2,343.4 L476.1,341.0 L477.0,340.3 L477.9,338.1 L478.8,335.5 L479.7,332.4 L480.6,327.2 L481.5,323.9 L482.4,322.2 L483.3,319.9 L484.2,315.8 L485.1,314.7 L486.0,311.1 L486.9,308.8 L487.8,304.6 L488.7,303.7 L489.6,298.2 L490.5,287.9 L491.4,281.7 L492.3,279.1 L493.2,277.0 L494.1,275.4 L495.0,274.8 L495.9,271.1 L496.8,263.6 L497.7,257.0 L498.6,255.7 L499.5,253.4 L500.4,251.8 L501.3,250.7 L502.2,249.6 L503.1,245.7 L504.0,243.7 L504.9,240.0 L505.8,237.7 L506.7,234.7 L507.6,233.4 L508.5,232.7 L509.4,229.6 L510.3,228.0 L511.2,225.9 L512.1,223.3 L513.0,221.9 L513.9,219.9 L514.8,217.1 L515.7,215.8 L516.6,214.1 L517.5,213.0 L518.4,212.7 L519.3,211.6 L520.2,214.9 L521.1,208.9 L522.0,209.7 L522.9,206.2 L523.8,201.7 L524.7,202.9 L525.6,202.7 L526.5,201.1 L527.4,199.3 L528.3,203.7 L529.2,200.8 L530.1,202.5 L531.0,201.4 L531.9,199.7 L532.8,201.6 L533.7,203.4 L534.6,208.4 L535.5,206.1 L536.4,206.7 L537.3,205.7 L538.2,205.8 L539.1,204.7 L540.0,204.5 L540.9,204.8 L541.8,205.9 L542.7,205.1 L543.6,205.1 L544.5,207.9 L545.4,204.8 L546.3,204.4 L547.2,205.0 L548.1,206.4 L549.0,207.7 L549.9,205.5 L550.8,205.9 L551.7,203.7 L552.6,204.0 L553.5,203.4 L554.4,203.1 L555.3,202.6 L556.2,203.0 L557.1,202.9 L558.0,199.4 L558.9,202.2 L559.8,198.1 L560.7,198.9 L561.6,197.5 L562.5,193.0 L563.4,197.7 L564.3,196.3 L565.2,192.7 L566.1,194.7 L567.0,197.2 L567.9,196.4 L568.8,196.1 L569.7,194.7 L570.6,197.2 L571.5,196.0 L572.4,195.5 L573.3,196.1 L574.2,196.9 L575.1,194.7 L576.0,197.9 L576.9,196.9 L577.8,195.8 L578.7,196.5 L579.6,200.9 L580.5,198.5 L581.4,201.2 L582.3,197.5 L583.2,200.2 L584.1,196.0 L585.0,197.6 L585.9,195.3 L586.8,198.8 L587.7,195.5 L588.6,196.1 L589.5,197.0 L590.4,195.1 L591.3,193.1 L592.2,196.4 L593.1,194.9 L594.0,192.2 L594.9,187.3 L595.8,189.2 L596.7,189.3 L597.6,190.2 L598.5,189.2 L599.4,188.5 L600.3,190.0 L601.2,189.0 L602.1,188.4 L603.0,188.9 L603.9,190.0 L604.8,186.9 L605.7,188.3 L606.6,190.2 L607.5,189.6 L608.4,188.0 L609.3,189.7 L610.2,190.3 L611.1,188.5 L612.0,185.2 L612.9,189.6 L613.8,190.7 L614.7,188.6 L615.6,192.6 L616.5,191.9 L617.4,190.8 L618.3,190.3 L619.2,190.7 L620.1,191.6 L621.0,191.7 L621.9,190.4 L622.8,191.0 L623.7,192.9 L624.6,189.4 L625.5,188.3 L626.4,190.5 L627.3,189.6 L628.2,188.7 L629.1,187.7 L630.0,186.6 L630.9,188.8 L631.8,187.0 L632.7,186.7 L633.6,182.0 L634.5,184.4 L635.4,182.3 L636.3,183.0 L637.2,183.3 L638.1,181.9 L639.0,183.2 L639.9,182.7 L640.8,182.5 L641.7,184.3 L642.6,186.4 L643.5,184.0 L644.4,185.3 L645.3,185.5 L646.2,187.9 L647.1,187.8 L648.0,183.6 L648.9,184.8 L649.8,185.5 L650.7,182.7 L651.6,183.8 L652.5,182.4 L653.4,183.2 L654.3,181.4 L655.2,183.0 L656.1,184.9 L657.0,182.1 L657.9,184.5 L658.8,184.3 L659.7,180.1 L660.6,178.8 L661.5,183.1 L662.4,180.9 L663.3,179.8 L664.2,177.6 L665.1,179.9 L666.0,181.0 L666.9,177.1 L667.8,171.0 L668.7,174.0 L669.6,176.7 L670.5,176.5 L671.4,178.9 L672.3,176.8 L673.2,173.4 L674.1,176.2 L675.0,174.3 L675.9,173.4 L676.8,173.5 L677.7,171.5 L678.6,178.0 L679.5,176.4 L680.4,178.6 L681.3,175.3 L682.2,176.6 L683.1,179.3 L684.0,179.7 L684.9,179.0 L685.8,178.8 L686.7,178.1 L687.6,185.5 L688.5,185.4 L689.4,182.1 L690.3,181.2 L691.2,183.8 L692.1,182.6 L693.0,177.6 L693.9,177.3 L694.8,181.0 L695.7,180.9 L696.6,179.3 L697.5,174.8 L698.4,175.5 L699.3,174.9 L700.2,178.3 L701.1,176.3 L702.0,175.1 L702.9,173.9 L703.8,173.3 L704.7,170.1 L705.6,169.8 L706.5,172.7 L707.4,173.5 L708.3,169.3 L709.2,170.2 L710.1,167.7 L711.0,167.8 L711.9,171.2 L712.8,168.7 L713.7,168.2 L714.6,171.6 L715.5,169.8 L716.4,170.4 L717.3,168.4 L718.2,170.8 L719.1,171.1 L720.0,168.7 L720.9,167.6 L721.8,168.1 L722.7,167.5 L723.6,170.1 L724.5,170.9 L725.4,168.1 L726.3,167.8 L727.2,164.0 L728.1,164.3 L729.0,162.7 L729.9,167.4 L730.8,166.2 L731.7,166.4 L732.6,168.9 L733.5,168.6 L734.4,166.7 L735.3,164.2 L736.2,162.0 L737.1,164.8 L738.0,163.3 L738.9,164.6 L739.8,163.8 L740.7,162.9 L741.6,163.8 L742.5,163.6 L743.4,166.3 L744.3,163.2 L745.2,164.5 L746.1,161.8 L747.0,162.5 L747.9,165.0 L748.8,165.3 L749.7,164.9 L750.6,163.7 L751.5,162.3 L752.4,162.7 L753.3,162.4 L754.2,164.8 L755.1,165.9 L756.0,167.1 L756.9,164.4 L757.8,165.0 L758.7,166.3 L759.6,166.1 L760.5,167.8 L761.4,166.5 L762.3,167.4 L763.2,167.8 L764.1,167.8 L765.0,168.2 L765.9,168.5 L766.8,175.0 L767.7,175.7 L768.6,172.6 L769.5,173.4 L770.4,171.4 L771.3,170.0 L772.2,171.4 L773.1,170.6 L774.0,171.1 L774.9,174.1 L775.8,173.4 L776.7,174.5 L777.6,172.4 L778.5,175.6 L779.4,175.0 L780.3,177.5 L781.2,177.1 L782.1,175.4 L783.0,179.1 L783.9,181.5 L784.8,184.1 L785.7,185.8 L786.6,182.9 L787.5,182.3 L788.4,185.4 L789.3,183.9 L790.2,186.4 L791.1,182.9 L792.0,187.7 L792.9,189.4 L793.8,186.0 L794.7,188.7 L795.6,188.4 L796.5,190.5 L797.4,187.0 L798.3,187.6 L799.2,191.2 L800.1,190.9 L801.0,192.5 L801.9,193.1 L802.8,191.5 L803.7,195.3 L804.6,195.7 L805.5,197.9 L806.4,197.7 L807.3,197.5 L808.2,194.4 L809.1,195.7 L810.0,198.8 L810.9,198.6 L811.8,201.3 L812.7,199.4 L813.6,202.9 L814.5,200.5 L815.4,202.5 L816.3,202.7 L817.2,204.7 L818.1,208.2 L819.0,207.3 L819.9,207.4 L820.8,209.0 L821.7,210.2 L822.6,209.2 L823.5,208.3 L824.4,211.5 L825.3,215.5 L826.2,215.3 L827.1,215.1 L828.0,218.0 L828.9,218.4 L829.8,218.1 L830.7,218.8 L831.6,221.0 L832.5,221.1 L833.4,220.7 L834.3,225.2 L835.2,224.5 L836.1,226.8 L837.0,226.6 L837.9,227.7 L838.8,226.2 L839.7,231.2 L840.6,232.5 L841.5,231.2 L842.4,231.9 L843.3,232.6 L844.2,232.0 L845.1,231.7 L846.0,236.0 L846.9,236.5 L847.8,237.3 L848.7,242.0 L849.6,237.7 L850.5,241.5 L851.4,241.5 L852.3,243.4 L853.2,243.0 L854.1,245.2 L855.0,246.7 L855.9,246.0 L856.8,248.8 L857.7,249.3 L858.6,250.1 L859.5,251.8 L860.4,251.3 L861.3,253.2 L862.2,252.8 L863.1,251.1 L864.0,252.0 L864.9,255.3 L865.8,254.1 L866.7,256.4 L867.6,259.3 L868.5,260.3 L869.4,261.5 L870.3,261.6 L871.2,260.2 L872.1,259.3 L873.0,260.0 L873.9,262.1 L874.8,263.1 L875.7,263.0 L876.6,266.3 L877.5,263.7 L878.4,267.9 L879.3,265.7 L880.2,267.5 L881.1,268.1 L882.0,266.8 L882.9,268.0 L883.8,271.1 L884.7,269.6 L885.6,270.2 L886.5,272.8 L887.4,273.3 L888.3,274.0 L889.2,276.2 L890.1,276.4 L891.0,277.9 L891.9,276.5 L892.8,279.0 L893.7,278.3 L894.6,277.5 L895.5,281.3 L896.4,283.8 L897.3,283.1 L898.2,282.2 L899.1,287.2 L900.0,284.2 L900.9,284.5 L901.8,288.8 L902.7,287.7 L903.6,287.3 L904.5,284.7 L905.4,289.4 L906.3,290.2 L907.2,292.9 L908.1,288.3 L909.0,292.0 L909.9,289.6 L910.8,296.7 L911.7,298.0 L912.6,298.3 L913.5,301.4 L914.4,299.4 L915.3,297.2 L916.2,300.1 L917.1,298.2 L918.0,301.3 L918.9,300.8 L919.8,304.6 L920.7,300.3 L921.6,298.9 L922.5,304.2 L923.4,301.4 L924.3,301.4 L925.2,300.7 L926.1,304.0 L927.0,306.1 L927.9,302.5 L928.8,307.8 L929.7,311.4 L930.6,313.9 L931.5,309.3 L932.4,315.9 L933.3,312.2 L934.2,311.9 L935.1,310.2 L936.0,315.0 L936.9,318.1 L937.8,316.2 L938.7,324.5 L939.6,324.6 L940.5,326.5 L941.4,322.3 L942.3,323.9 L943.2,323.6 L944.1,325.6 L945.0,330.3 L945.9,326.5 L946.8,331.3 L947.7,331.5 L948.6,329.1 L949.5,330.6 L950.4,329.9 L951.3,332.2 L952.2,334.4 L953.1,332.1 L954.0,330.8 L954.9,331.6 L955.8,331.4 L956.7,331.5 L957.6,333.1 L958.5,330.4 L959.4,333.9 L960.3,335.1 L961.2,337.1 L962.1,338.0 L963.0,335.6 L963.9,334.3 L964.8,336.7 L965.7,335.9 L966.6,334.4 L967.5,339.2 L968.4,338.6 L969.3,337.2 L970.2,342.6 L971.1,340.7 L972.0,342.4 L972.9,344.5 L973.8,344.4 L974.7,343.0 L975.6,347.5 L976.5,343.0 L977.4,342.1 L978.3,339.4 L979.2,347.9 L980.1,341.9 L981.0,338.7 L981.9,341.7 L982.8,343.4 L983.7,337.1 L984.6,342.9 L985.5,339.3 L986.4,340.7 L987.3,339.7 L988.2,338.1 L989.1,340.3 L990.0,340.6 L990.9,338.4 L991.8,335.0 L992.7,336.9 L993.6,335.1 L994.5,336.7 L995.4,336.8 L996.3,336.9 L997.2,337.3 L998.1,340.0 L999.0,336.3 L999.9,331.8 L1000.8,334.2 L1001.7,335.6 L1002.6,332.7 L1003.5,338.6 L1004.4,338.2 L1005.3,339.0 L1006.2,336.8 L1007.1,335.1 L1008.0,330.2 L1008.9,331.2 L1009.8,335.3 L1010.7,334.7 L1011.6,338.1 L1012.5,336.5 L1013.4,335.5 L1014.3,334.5 L1015.2,330.0 L1016.1,332.4 L1017.0,331.7 L1017.9,333.2 L1018.8,332.3 L1019.7,333.1 L1020.6,334.3 L1021.5,334.7 L1022.4,332.6 L1023.3,330.0 L1024.2,327.0 L1025.1,331.6 L1026.0,328.4 L1026.9,327.4 L1027.8,330.0 L1028.7,330.8 L1029.6,324.9 L1030.5,328.8 L1031.4,329.0 L1032.3,327.0 L1033.2,330.5 L1034.1,328.3 L1035.0,329.1 L1035.9,330.4 L1036.8,329.6 L1037.7,327.9 L1038.6,326.7 L1039.5,324.8 L1040.4,325.1 L1041.3,322.5 L1042.2,321.3 L1043.1,321.7 L1044.0,323.4 L1044.9,325.7 L1045.8,329.2 L1046.7,326.4 L1047.6,315.0 L1048.5,317.7 L1049.4,320.5 L1050.3,321.3 L1051.2,318.2 L1052.1,316.8 L1053.0,318.9 L1053.9,315.6 L1054.8,315.3 L1055.7,315.0 L1056.6,316.7 L1057.5,316.1 L1058.4,313.1 L1059.3,313.3 L1060.2,314.3 L1061.1,314.8 L1062.0,316.6 L1062.9,313.0 L1063.8,313.8 L1064.7,309.7 L1065.6,309.8 L1066.5,313.3 L1067.4,308.3 L1068.3,310.7 L1069.2,308.9 L1070.1,308.6 L1071.0,309.6 L1071.9,305.8 L1072.8,306.8 L1073.7,308.5 L1074.6,307.7 L1075.5,305.6 L1076.4,309.4 L1077.3,302.8 L1078.2,302.2 L1079.1,301.2 L1080.0,298.0 L1080.9,306.2 L1081.8,300.4 L1082.7,304.3 L1083.6,298.7 L1084.5,300.5 L1085.4,297.5 L1086.3,297.9 L1087.2,302.9 L1088.1,296.3 L1089.0,296.2 L1089.9,295.9 L1090.8,299.1 L1091.7,295.2 L1092.6,298.6 L1093.5,294.5 L1094.4,294.7 L1095.3,294.7 L1096.2,294.9 L1097.1,291.1 L1098.0,291.9 L1098.9,293.3 L1099.8,289.3 L1100.7,290.3 L1101.6,288.6 L1102.5,289.8 L1103.4,289.8 L1104.3,290.5 L1105.2,298.2 L1106.1,292.2 L1107.0,292.8 L1107.9,294.6 L1108.8,291.9 L1109.7,288.2 L1110.6,297.4 L1111.5,289.0 L1112.4,290.0 L1113.3,289.2 L1114.2,287.0 L1115.1,287.2 L1116.0,291.8 L1116.9,281.8 L1117.8,286.3 L1118.7,283.3 L1119.6,293.6 L1120.5,285.2 L1121.4,284.9 L1122.3,284.4 L1123.2,281.2 L1124.1,287.8 L1125.0,284.6 L1125.9,280.9 L1126.8,286.4 L1127.7,285.9 L1128.6,286.1 L1129.5,286.1 L1130.4,289.7 L1131.3,289.1 L1132.2,287.9 L1133.1,277.6 L1134.0,287.5 L1134.9,282.9 L1135.8,288.4 L1136.7,282.7 L1137.6,284.3 L1138.5,287.1 L1139.4,286.8 L1140.3,286.1 L1141.2,280.0 L1142.1,270.3 L1143.0,284.6 L1143.9,280.3 L1144.8,284.3 L1145.7,286.1 L1146.6,290.4 L1147.5,287.5 L1148.4,286.3 L1149.3,283.3 L1150.2,289.8 L1151.1,283.5 L1152.0,293.7 L1152.9,289.6 L1153.8,294.2 L1154.7,289.4 L1155.6,292.1 L1156.5,292.8 L1157.4,293.6 L1158.3,286.4 L1159.2,289.8 L1160.1,282.5 L1161.0,287.7 L1161.9,293.2 L1162.8,293.7 L1163.7,295.3 L1164.6,293.7 L1165.5,294.4 L1166.4,290.9 L1167.3,283.0 L1168.2,286.5 L1169.1,288.7 L1170.0,282.0 L1170.9,282.9 L1171.8,282.7 L1172.7,283.8 L1173.6,289.7 L1174.5,283.8 L1175.4,283.6 L1176.3,285.5 L1177.2,289.4 L1178.1,286.0 L1179.0,281.3 L1179.9,285.1 L1180.8,283.7 L1181.7,280.9 L1182.6,283.3 L1183.5,283.3 L1184.4,284.7 L1185.3,283.3 L1186.2,288.3 L1187.1,287.5 L1188.0,283.8 L1188.9,283.7 L1189.8,279.9 L1190.7,283.8 L1191.6,283.9 L1192.5,289.8 L1193.4,297.2 L1194.3,298.3 L1195.2,293.1 L1196.1,293.0 L1197.0,292.2 L1197.9,297.9 L1198.8,293.9 L1199.7,283.7 L1200.6,291.7 L1201.5,286.5 L1202.4,295.1 L1203.3,286.5 L1204.2,285.8 L1205.1,292.0 L1206.0,291.5 L1206.9,292.0 L1207.8,288.3 L1208.7,288.2 L1209.6,288.2 L1210.5,284.7 L1211.4,287.6 L1212.3,285.2 L1213.2,297.0 L1214.1,290.6 L1215.0,285.0 L1215.9,287.5 L1216.8,290.2 L1217.7,290.4 L1218.6,291.5 L1219.5,286.4 L1220.4,294.5 L1221.3,293.4 L1222.2,290.7 L1223.1,292.0 L1224.0,297.3 L1224.9,289.9 L1225.8,289.0 L1226.7,293.3 L1227.6,290.5 L1228.5,288.9 L1229.4,294.3 L1230.3,293.5 L1231.2,294.2 L1232.1,295.9 L1233.0,296.8 L1233.9,297.8 L1234.8,299.2 L1235.7,296.9 L1236.6,295.7 L1237.5,295.9 L1238.4,298.0 L1239.3,290.9 L1240.2,292.0 L1241.1,291.7 L1242.0,289.7 L1242.9,290.5 L1243.8,291.6 L1244.7,292.8 L1245.6,287.1 L1246.5,289.6 L1247.4,291.8 L1248.3,287.0 L1249.2,289.8 L1250.1,296.9 L1251.0,294.9 L1251.9,286.6 L1252.8,290.6 L1253.7,288.6 L1254.6,292.4 L1255.5,287.8 L1256.4,294.8 L1257.3,286.3 L1258.2,293.5 L1259.1,286.3 L1260.0,291.6 L1260.9,288.2 L1261.8,294.2 L1262.7,289.4 L1263.6,283.6 L1264.5,285.7 L1265.4,284.8 L1266.3,284.3 L1267.2,290.8 L1268.1,283.8 L1269.0,285.9 L1269.9,283.8 L1270.8,287.9 L1271.7,285.8 L1272.6,281.9 L1273.5,283.0 L1274.4,282.0 L1275.3,292.3 L1276.2,294.9 L1277.1,288.9 L1278.0,286.1 L1278.9,289.9 L1279.8,287.4 L1280.7,291.9 L1281.6,293.1 L1282.5,291.1 L1283.4,291.3 L1284.3,294.8 L1285.2,287.6 L1286.1,290.8 L1287.0,287.1 L1287.9,292.2 L1288.8,290.5 L1289.7,293.7 L1290.6,291.1 L1291.5,293.0 L1292.4,283.5 L1293.3,291.9 L1294.2,284.5 L1295.1,285.9 L1296.0,284.6 L1296.9,288.0 L1297.8,292.0 L1298.7,294.3 L1299.6,288.5 L1300.5,282.4 L1301.4,287.3 L1302.3,294.2 L1303.2,291.6 L1304.1,287.0 L1305.0,299.0 L1305.9,294.4 L1306.8,292.4 L1307.7,295.1 L1308.6,293.7 L1309.5,294.0 L1310.4,292.8 L1311.3,302.9 L1312.2,302.1 L1313.1,301.1 L1314.0,306.6 L1314.9,304.8 L1315.8,299.1 L1316.7,301.4 L1317.6,303.8 L1318.5,301.0 L1319.4,293.0 L1320.3,298.8 L1321.2,299.4 L1322.1,296.9 L1323.0,297.0 L1323.9,299.0 L1324.8,300.6 L1325.7,298.2 L1326.6,294.5 L1327.5,298.9 L1328.4,302.2 L1329.3,302.9 L1330.2,298.0 L1331.1,298.1 L1332.0,299.6 L1332.9,296.5 L1333.8,298.4 L1334.7,295.8 L1335.6,297.2 L1336.5,300.6 L1337.4,297.6 L1338.3,298.5 L1339.2,299.1 L1340.1,298.8 L1341.0,298.1 L1341.9,302.1 L1342.8,307.5 L1343.7,302.7 L1344.6,309.0 L1345.5,304.7 L1346.4,308.8 L1347.3,308.0 L1348.2,304.3 L1349.1,306.1 L1350.0,301.2 L1350.9,306.7 L1351.8,314.1 L1352.7,304.5 L1353.6,308.6 L1354.5,308.0 L1355.4,301.7 L1356.3,304.5 L1357.2,302.7 L1358.1,298.8 L1359.0,302.9 L1359.9,303.5 L1360.8,298.8 L1361.7,308.5 L1362.6,305.8 L1363.5,303.8 L1364.4,301.1 L1365.3,304.1 L1366.2,304.9 L1367.1,305.6 L1368.0,298.4 L1368.9,296.7 L1369.8,304.3 L1370.7,304.6 L1371.6,300.6 L1372.5,305.0 L1373.4,298.7 L1374.3,299.7 L1375.2,311.3 L1376.1,308.4 L1377.0,305.4 L1377.9,307.8 L1378.8,309.6 L1379.7,303.6 L1380.6,310.3 L1381.5,307.7 L1382.4,310.6 L1383.3,308.0 L1384.2,306.4 L1385.1,314.0 L1386.0,315.5 L1386.9,304.9 L1387.8,312.2 L1388.7,312.9 L1389.6,312.9 L1390.5,307.1 L1391.4,313.4 L1392.3,303.9 L1393.2,305.4 L1394.1,301.7 L1395.0,305.7 L1395.9,307.0 L1396.8,315.8 L1397.7,309.4 L1398.6,305.4 L1399.5,307.6 L1400.4,297.7 L1401.3,307.4 L1402.2,312.4 L1403.1,306.6 L1404.0,307.7 L1404.9,307.5 L1405.8,311.5 L1406.7,306.8 L1407.6,307.6 L1408.5,309.8 L1409.4,305.4 L1410.3,304.1 L1411.2,312.4 L1412.1,311.0 L1413.0,315.7 L1413.9,310.2 L1414.8,307.0 L1415.7,311.9 L1416.6,305.6 L1417.5,309.1 L1418.4,306.8 L1419.3,304.4 L1420.2,307.0 L1421.1,306.3 L1422.0,307.2 L1422.9,308.6 L1423.8,309.6 L1424.7,309.2 L1425.6,311.9 L1426.5,308.9 L1427.4,312.4 L1428.3,304.6 L1429.2,307.5 L1430.1,308.0 L1431.0,311.2 L1431.9,309.2 L1432.8,304.9 L1433.7,306.3 L1434.6,310.4 L1435.5,309.1 L1436.4,308.1 L1437.3,308.8 L1438.2,311.0 L1439.1,310.3 L1440.0,313.9 L1440.9,303.3 L1441.8,307.3 L1442.7,307.1 L1443.6,303.7 L1444.5,303.6 L1445.4,302.2 L1446.3,303.3 L1447.2,302.2 L1448.1,306.2 L1449.0,310.8 L1449.9,310.0 L1450.8,303.0 L1451.7,301.7 L1452.6,304.8 L1453.5,303.7 L1454.4,307.3 L1455.3,307.0 L1456.2,303.3 L1457.1,303.7 L1458.0,301.6 L1458.9,307.7 L1459.8,298.7 L1460.7,303.9 L1461.6,305.0 L1462.5,301.9 L1463.4,302.4 L1464.3,306.7 L1465.2,305.5 L1466.1,303.8 L1467.0,305.4 L1467.9,309.3 L1468.8,304.6 L1469.7,299.0 L1470.6,308.3 L1471.5,302.3 L1472.4,306.2 L1473.3,304.6 L1474.2,306.5 L1475.1,306.7 L1476.0,308.5 L1476.9,302.7 L1477.8,305.7 L1478.7,302.5 L1479.6,305.8 L1480.5,309.7 L1481.4,304.8 L1482.3,306.9 L1483.2,306.8 L1484.1,309.6 L1485.0,306.5 L1485.9,309.5 L1486.8,307.1 L1487.7,305.7 L1488.6,311.3 L1489.5,309.7 L1490.4,309.2 L1491.3,310.4 L1492.2,313.0 L1493.1,311.9 L1494.0,306.6 L1494.9,312.0 L1495.8,311.3 L1496.7,306.0 L1497.6,302.2 L1498.5,309.1 L1499.4,304.1 L1500.3,309.0 L1501.2,311.4 L1502.1,308.1 L1503.0,310.6 L1503.9,311.2 L1504.8,309.5 L1505.7,309.4 L1506.6,319.7 L1507.5,309.7 L1508.4,313.8 L1509.3,310.1 L1510.2,306.4 L1511.1,317.4 L1512.0,307.4 L1512.9,311.3 L1513.8,315.0 L1514.7,306.2 L1515.6,305.7 L1516.5,307.4 L1517.4,308.2 L1518.3,308.1 L1519.2,300.0 L1520.1,302.0 L1521.0,304.8 L1521.9,304.0 L1522.8,299.5 L1523.7,307.6 L1524.6,307.7 L1525.5,310.3 L1526.4,312.3 L1527.3,308.7 L1528.2,311.3 L1529.1,316.3 L1530.0,311.2 L1530.9,310.9 L1531.8,306.8 L1532.7,307.3 L1533.6,311.2 L1534.5,305.2 L1535.4,312.8 L1536.3,299.6 L1537.2,305.5 L1538.1,306.4 L1539.0,304.4 L1539.9,304.2 L1540.8,299.4 L1541.7,300.4 L1542.6,298.8 L1543.5,300.2 L1544.4,303.2 L1545.3,304.5 L1546.2,296.1 L1547.1,295.4 L1548.0,298.8 L1548.9,297.1 L1549.8,298.2 L1550.7,303.0 L1551.6,303.3 L1552.5,304.3 L1553.4,304.4 L1554.3,302.5 L1555.2,307.5 L1556.1,303.4 L1557.0,299.7 L1557.9,301.6 L1558.8,303.2 L1559.7,298.1 L1560.6,300.7 L1561.5,302.1 L1562.4,302.4 L1563.3,303.2 L1564.2,301.8 L1565.1,302.4 L1566.0,301.0 L1566.9,303.4 L1567.8,304.7 L1568.7,309.4 L1569.6,308.6 L1570.5,304.9 L1571.4,306.5 L1572.3,303.1 L1573.2,302.7 L1574.1,304.0 L1575.0,301.7 L1575.9,306.6 L1576.8,304.4 L1577.7,299.7 L1578.6,302.1 L1579.5,305.3 L1580.4,305.8 L1581.3,303.3 L1582.2,299.0 L1583.1,295.6 L1584.0,297.8 L1584.9,304.3 L1585.8,305.1 L1586.7,301.6 L1587.6,304.4 L1588.5,305.7 L1589.4,298.1 L1590.3,306.2 L1591.2,304.0 L1592.1,303.7 L1593.0,302.5 L1593.9,307.9 L1594.8,300.9 L1595.7,305.6 L1596.6,300.0 L1597.5,301.2 L1598.4,299.8 L1599.3,306.2 L1600.2,302.7 L1601.1,302.7 L1602.0,306.8 L1602.9,303.6 L1603.8,304.8 L1604.7,308.9 L1605.6,309.3 L1606.5,306.6 L1607.4,304.2 L1608.3,302.7 L1609.2,300.0 L1610.1,299.7 L1611.0,308.2 L1611.9,300.1 L1612.8,306.8 L1613.7,304.5 L1614.6,305.8 L1615.5,301.6 L1616.4,305.0 L1617.3,306.0 L1618.2,298.7 L1619.1,299.5 L1620.0,296.8 L1620.9,306.2 L1621.8,303.1 L1622.7,307.5 L1623.6,304.7 L1624.5,306.0 L1625.4,311.7 L1626.3,299.6 L1627.2,313.9 L1628.1,302.9 L1629.0,294.3 L1629.9,301.9 L1630.8,307.0 L1631.7,304.3 L1632.6,297.2 L1633.5,303.8 L1634.4,291.6 L1635.3,294.7 L1636.2,299.6 L1637.1,297.8 L1638.0,305.2 L1638.9,305.9 L1639.8,302.4 L1640.7,310.2 L1641.6,307.8 L1642.5,305.9 L1643.4,306.3 L1644.3,300.7 L1645.2,299.5 L1646.1,303.3 L1647.0,308.0 L1647.9,302.8 L1648.8,305.7 L1649.7,294.4 L1650.6,301.2 L1651.5,299.7 L1652.4,304.9 L1653.3,306.1 L1654.2,304.3 L1655.1,303.3 L1656.0,304.7 L1656.9,298.0 L1657.8,300.7 L1658.7,300.7 L1659.6,295.2 L1660.5,295.5 L1661.4,291.5 L1662.3,293.0 L1663.2,293.4 L1664.1,297.1 L1665.0,304.0 L1665.9,302.4 L1666.8,297.5 L1667.7,311.7 L1668.6,299.8 L1669.5,296.2 L1670.4,297.8 L1671.3,292.0 L1672.2,296.4 L1673.1,295.5 L1674.0,298.6 L1674.9,300.3 L1675.8,305.5 L1676.7,298.5 L1677.6,302.2 L1678.5,300.9 L1679.4,302.2 L1680.3,301.1 L1681.2,294.2 L1682.1,293.1 L1683.0,296.8 L1683.9,290.3 L1684.8,295.0 L1685.7,292.8 L1686.6,293.7 L1687.5,292.0 L1688.4,294.1 L1689.3,296.9 L1690.2,288.1 L1691.1,295.1 L1692.0,294.0 L1692.9,293.9 L1693.8,296.1 L1694.7,293.4 L1695.6,294.6 L1696.5,291.0 L1697.4,292.8 L1698.3,294.0 L1699.2,296.9 L1700.1,291.0 L1701.0,299.7 L1701.9,291.7 L1702.8,289.0 L1703.7,287.3 L1704.6,298.5 L1705.5,296.4 L1706.4,294.0 L1707.3,302.3 L1708.2,295.0 L1709.1,295.9 L1710.0,297.1 L1710.9,296.0 L1711.8,293.2 L1712.7,300.5 L1713.6,294.9 L1714.5,290.6 L1715.4,289.2 L1716.3,296.6 L1717.2,297.7 L1718.1,290.7 L1719.0,289.8 L1719.9,289.8 L1720.8,289.1 L1721.7,293.2 L1722.6,287.7 L1723.5,290.0 L1724.4,291.0 L1725.3,300.0 L1726.2,298.4 L1727.1,297.4 L1728.0,288.1 L1728.9,296.3 L1729.8,297.3 L1730.7,298.3 L1731.6,298.9 L1732.5,295.2 L1733.4,296.4 L1734.3,294.7 L1735.2,295.3 L1736.1,299.8 L1737.0,301.8 L1737.9,302.2 L1738.8,301.3 L1739.7,292.0 L1740.6,296.9 L1741.5,299.0 L1742.4,301.5 L1743.3,299.6 L1744.2,297.0 L1745.1,298.1 L1746.0,298.6 L1746.9,297.5 L1747.8,295.5 L1748.7,293.0 L1749.6,298.3 L1750.5,297.3 L1751.4,299.4 L1752.3,290.0 L1753.2,293.0 L1754.1,289.9 L1755.0,292.3 L1755.9,295.2 L1756.8,290.3 L1757.7,293.4 L1758.6,288.6 L1759.5,289.9 L1760.4,288.3 L1761.3,295.8 L1762.2,302.1 L1763.1,299.5 L1764.0,299.2 L1764.9,298.1 L1765.8,295.4 L1766.7,297.5 L1767.6,296.7 L1768.5,294.7 L1769.4,298.5 L1770.3,297.5 L1771.2,296.6 L1772.1,294.9 L1773.0,297.7 L1773.9,297.6 L1774.8,296.1 L1775.7,296.0 L1776.6,298.6 L1777.5,297.7 L1778.4,294.7 L1779.3,295.5 L1780.2,297.3 L1781.1,296.0 L1782.0,303.8 L1782.9,304.0 L1783.8,306.8 L1784.7,308.3 L1785.6,308.3 L1786.5,298.0 L1787.4,301.9 L1788.3,300.7 L1789.2,293.7 L1790.1,301.5 L1791.0,296.2 L1791.9,298.8 L1792.8,299.6 L1793.7,298.7 L1794.6,300.2 L1795.5,297.9 L1796.4,300.4 L1797.3,296.2 L1798.2,289.0 L1799.1,291.3 L1800.0,294.8 L1800.9,299.2 L1801.8,306.1 L1802.7,302.2 L1803.6,300.2 L1804.5,304.5 L1805.4,304.0 L1806.3,307.3 L1807.2,297.9 L1808.1,296.4 L1809.0,305.7 L1809.9,297.9 L1810.8,303.3 L1811.7,299.4 L1812.6,297.9 L1813.5,298.7 L1814.4,298.5 L1815.3,298.3 L1816.2,303.7 L1817.1,306.0 L1818.0,303.4 L1818.9,298.4 L1819.8,299.6 L1820.7,299.6 L1821.6,301.9 L1822.5,303.8 L1823.4,306.0 L1824.3,300.0 L1825.2,300.7 L1826.1,306.8 L1827.0,303.4 L1827.9,302.8 L1828.8,295.9 L1829.7,302.8 L1830.6,305.4 L1831.5,302.8 L1832.4,307.5 L1833.3,301.7 L1834.2,304.0 L1835.1,305.4 L1836.0,303.8 L1836.9,310.9 L1837.8,309.9 L1838.7,305.4 L1839.6,303.8 L1840.5,296.2 L1841.4,305.3 L1842.3,306.7 L1843.2,300.0 L1844.1,298.1 L1845.0,307.4 L1845.9,296.7 L1846.8,299.4 L1847.7,297.4 L1848.6,296.4 L1849.5,299.4 L1850.4,306.5 L1851.3,302.2 L1852.2,299.6 L1853.1,301.9 L1854.0,302.4 L1854.9,306.5 L1855.8,308.0 L1856.7,308.7 L1857.6,303.6 L1858.5,299.2 L1859.4,307.9 L1860.3,308.9 L1861.2,307.5 L1862.1,300.9 L1863.0,301.1 L1863.9,302.6 L1864.8,296.3 L1865.7,296.2 L1866.6,295.3 L1867.5,296.2 L1868.4,297.5 L1869.3,295.9 L1870.2,300.6 L1871.1,291.8 L1872.0,293.7 L1872.9,299.1 L1873.8,302.7 L1874.7,299.8 L1875.6,300.1 L1876.5,301.7 L1877.4,296.1 L1878.3,299.1 L1879.2,301.9 L1880.1,298.6 L1881.0,294.3 L1881.9,296.2 L1882.8,297.4 L1883.7,298.7 L1884.6,303.4 L1885.5,301.2 L1886.4,294.3 L1887.3,298.4 L1888.2,300.0" stroke="#ff0000" stroke-width="6.2"/>
</g>
<text transform="translate(1080.20,1537.00) scale(1.2280,1.0000)" font-size="49" text-anchor="middle" fill="#000">Time, ns</text>
<text transform="translate(66.30,791.70) scale(1.2200,1.0000) rotate(-90)" font-size="49" text-anchor="middle" fill="#000">Free surface velocity, m/s</text>
<text transform="translate(1747.00,231.80) scale(1.2100,1.0000)" font-size="48" text-anchor="middle" fill="#ff0000">ML5/AIN</text>
<text transform="translate(1784.50,446.90) scale(1.1930,1.0000)" font-size="49.5" text-anchor="middle" fill="#0000ff">ML5</text>
<text transform="translate(361.90,1117.60) scale(1.3000,1.0000) rotate(-90)" font-size="30" text-anchor="middle" fill="#ff0000">HEL</text>
<text transform="translate(455.80,1271.80) scale(1.1750,1.0000)" font-size="31" text-anchor="middle" fill="#0000ff">HEL</text>
<rect x="315.20" y="1166.90" width="4.80" height="69.10" fill="#ff0000"/>
<polygon points="312.00,1233.30 324.00,1233.30 318.10,1258.00" fill="#ff0000"/>
<polygon points="438.10,1314.80 438.10,1319.00 382.90,1316.40 382.90,1311.90" fill="#0000ff"/>
<polygon points="383.00,1307.00 383.00,1320.90 360.80,1312.70" fill="#0000ff"/>
<line x1="746.70" y1="241.20" x2="746.70" y2="369.00" stroke="#000" stroke-width="3.2" stroke-dasharray="10 10.2"/>
<polygon points="740.20,238.00 753.40,238.00 746.80,213.70" fill="#000"/>
<polygon points="740.90,367.10 754.30,367.10 747.50,391.90" fill="#000"/>
<line x1="693.00" y1="388.00" x2="992.00" y2="385.60" stroke="#000" stroke-width="2.8" stroke-dasharray="10 8"/>
<line x1="986.30" y1="205.00" x2="986.30" y2="303.00" stroke="#000" stroke-width="3.0" stroke-dasharray="10 7"/>
<polygon points="980.30,301.50 992.40,301.50 986.30,325.60" fill="#000"/>
<text transform="translate(959.00,238.50) scale(1.2650,1.0000) rotate(-90)" font-size="30.2" text-anchor="middle" fill="#000">fracture</text>
<line x1="1158.00" y1="365.60" x2="1098.00" y2="365.60" stroke="#000" stroke-width="3.0" stroke-dasharray="10.5 6.5"/>
<polygon points="1098.50,359.00 1098.50,372.40 1075.20,365.60" fill="#000"/>
<text transform="translate(1203.00,418.60) scale(1.2200,1.0000)" font-size="29" text-anchor="middle" fill="#000">spall pulse</text>
<rect x="993.60" y="433.00" width="3.80" height="40.00" fill="#000"/>
<polygon points="989.20,435.00 1001.80,435.00 995.50,410.80" fill="#000"/>
<rect x="1432.70" y="420.00" width="3.70" height="38.80" fill="#000"/>
<polygon points="1428.40,421.30 1440.70,421.30 1434.50,397.00" fill="#000"/>
<text transform="translate(1011.60,487.00) scale(1.1200,1.0000)" font-size="40" text-anchor="start" fill="#000">t</text>
<text transform="translate(1025.00,508.70) scale(1.2100,1.0000)" font-size="23" text-anchor="start" fill="#000">1</text>
<rect x="1026.11" y="506.68" width="5.65" height="2.62" fill="#fff"/>
<rect x="1034.55" y="506.68" width="5.20" height="2.62" fill="#fff"/>
<text transform="translate(1452.80,486.40) scale(1.1200,1.0000)" font-size="40" text-anchor="start" fill="#000">t</text>
<text transform="translate(1466.00,508.00) scale(1.2100,1.0000)" font-size="23" text-anchor="start" fill="#000">2</text>
<text transform="translate(672.0,326.8) scale(1.21,1) skewX(-22)" font-size="24.5" stroke="#fff" stroke-width="0.7">Δ</text>
<text transform="translate(692.50,326.80) scale(1.2100,1.0000)" font-size="30" text-anchor="start" fill="#000" font-style="italic">u</text>
<text transform="translate(712.20,342.80) scale(1.2100,1.0000)" font-size="18" text-anchor="start" fill="#000" font-style="italic">fs</text>
</svg>
</body>
</html>
